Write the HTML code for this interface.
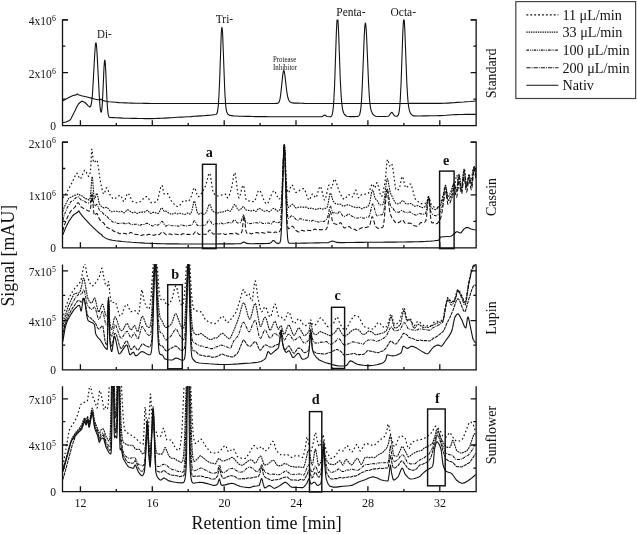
<!DOCTYPE html>
<html lang="en"><head><meta charset="utf-8"><title>Chromatograms</title>
<style>html,body{margin:0;padding:0;background:#fff}svg{display:block}</style></head>
<body>
<svg width="637" height="534" viewBox="0 0 637 534">
<rect width="100%" height="100%" fill="#fff"/>
<g fill="none" stroke="#111" stroke-width="1.3" stroke-linecap="butt">
<path d="M68.0,19.8H62.5V125.7H476.15V19.8H470.65"/>
<path d="M62.5,19.8h5.5M476.15,19.8h-5.5M62.5,46.2h2.8M476.15,46.2h-2.8M62.5,72.65h5.5M476.15,72.65h-5.5M62.5,99.1h2.8M476.15,99.1h-2.8M80.4,125.7v-5.5M116.3,125.7v-2.8M152.3,125.7v-5.5M188.2,125.7v-2.8M224.2,125.7v-5.5M260.1,125.7v-2.8M296.0,125.7v-5.5M332.0,125.7v-2.8M367.9,125.7v-5.5M403.9,125.7v-2.8M439.8,125.7v-5.5"/>
<path d="M68.0,142.1H62.5V247.8H476.15V142.1H470.65"/>
<path d="M62.5,142.1h5.5M476.15,142.1h-5.5M62.5,168.5h2.8M476.15,168.5h-2.8M62.5,194.95h5.5M476.15,194.95h-5.5M62.5,221.4h2.8M476.15,221.4h-2.8M80.4,247.8v-5.5M116.3,247.8v-2.8M152.3,247.8v-5.5M188.2,247.8v-2.8M224.2,247.8v-5.5M260.1,247.8v-2.8M296.0,247.8v-5.5M332.0,247.8v-2.8M367.9,247.8v-5.5M403.9,247.8v-2.8M439.8,247.8v-5.5"/>
<path d="M62.5,264.4V369.8H476.15V264.4"/>
<path d="M62.5,270.8h5.5M476.15,270.8h-5.5M62.5,295.3h2.8M476.15,295.3h-2.8M62.5,320.6h5.5M476.15,320.6h-5.5M62.5,345.2h2.8M476.15,345.2h-2.8M80.4,369.8v-5.5M116.3,369.8v-2.8M152.3,369.8v-5.5M188.2,369.8v-2.8M224.2,369.8v-5.5M260.1,369.8v-2.8M296.0,369.8v-5.5M332.0,369.8v-2.8M367.9,369.8v-5.5M403.9,369.8v-2.8M439.8,369.8v-5.5"/>
<path d="M62.5,386.2V491.7H476.15V386.2"/>
<path d="M62.5,398.8h5.5M476.15,398.8h-5.5M62.5,421.6h2.8M476.15,421.6h-2.8M62.5,445.0h5.5M476.15,445.0h-5.5M62.5,468.2h2.8M476.15,468.2h-2.8M80.4,491.7v-5.5M116.3,491.7v-2.8M152.3,491.7v-5.5M188.2,491.7v-2.8M224.2,491.7v-5.5M260.1,491.7v-2.8M296.0,491.7v-5.5M332.0,491.7v-2.8M367.9,491.7v-5.5M403.9,491.7v-2.8M439.8,491.7v-5.5"/>
</g>
<defs><clipPath id="cp0"><rect x="62" y="19.6" width="415" height="106.9"/></clipPath><clipPath id="cp1"><rect x="62" y="141.9" width="415" height="106.70000000000002"/></clipPath><clipPath id="cp2"><rect x="62" y="264.2" width="415" height="106.40000000000003"/></clipPath><clipPath id="cp3"><rect x="62" y="386.0" width="415" height="106.5"/></clipPath></defs>
<g fill="none" stroke="#111" stroke-linejoin="round">
<path clip-path="url(#cp0)" stroke-width="1.1" d="M62.8,100.9L66.0,99.0L69.3,97.3L72.5,95.7L75.8,94.9L76.3,94.7L77.3,94.0L77.5,94.0L78.3,94.8L81.5,95.8L84.8,96.5L88.0,97.3L91.3,98.1L94.5,99.0L97.8,99.8L100.0,99.8L100.3,99.8L100.8,99.2L101.0,99.1L101.3,99.3L102.5,100.4L105.8,101.3L109.0,101.7L112.3,102.0L115.5,102.3L118.8,102.6L122.0,102.8L125.3,102.9L128.3,103.0L131.6,103.1L134.8,103.2L138.1,103.2L141.3,103.3L144.6,103.4L147.8,103.4L151.1,103.5L154.3,103.5L157.6,103.5L160.8,103.5L164.1,103.5L167.3,103.5L170.6,103.5L173.8,103.5L177.1,103.5L180.3,103.5L183.6,103.5L186.8,103.5L190.1,103.5L193.3,103.5L196.6,103.5L199.8,103.5L203.1,103.5L206.3,103.5L209.6,103.5L212.8,103.5L216.1,103.5L219.3,103.5L222.6,103.5L225.8,103.5L229.1,103.5L232.3,103.5L235.6,103.5L238.8,103.5L242.1,103.5L245.3,103.5L248.6,103.5L251.8,103.5L255.1,103.5L258.3,103.5L261.6,103.5L264.8,103.5L268.1,103.5L271.3,103.5L274.6,103.5L277.3,103.4L278.1,103.1L278.6,102.7L279.1,101.9L279.6,100.5L280.1,98.4L280.8,93.5L282.8,74.6L283.3,71.6L283.6,70.8L283.8,70.5L284.1,70.8L284.3,71.6L284.8,74.5L286.8,91.8L287.6,96.3L288.1,98.3L288.6,99.7L289.3,101.1L290.1,101.9L291.3,102.6L294.6,103.1L297.8,103.1L301.1,103.2L304.3,103.4L307.6,103.5L310.8,103.5L314.1,103.5L317.3,103.5L320.6,103.5L323.8,103.5L327.1,103.5L330.3,103.5L333.6,103.5L336.8,103.5L340.1,103.5L343.3,103.5L346.6,103.5L349.8,103.5L353.1,103.5L356.3,103.5L359.6,103.5L362.8,103.5L366.1,103.5L369.3,103.5L372.6,103.5L375.8,103.5L379.1,103.5L382.3,103.5L385.6,103.5L388.8,103.5L392.1,103.5L395.3,103.5L398.6,103.5L401.8,103.5L405.1,103.5L408.3,103.5L411.6,103.4L414.8,103.4L418.1,103.4L421.3,103.4L424.6,103.4L427.8,103.4L431.1,103.4L434.3,103.4L437.6,103.4L440.8,103.4L444.1,103.3L447.3,103.1L450.6,102.9L453.8,102.7L457.1,102.4L460.3,102.2L463.6,102.0L466.8,101.7L470.1,101.5L473.3,101.2L475.8,101.0"/>
<path clip-path="url(#cp0)" stroke-width="1.1" d="M62.8,122.6L66.0,122.0L68.8,120.8L70.0,120.0L70.8,119.1L74.0,112.8L77.3,106.0L78.5,104.0L80.8,101.8L81.5,101.4L82.3,101.3L85.0,102.5L88.3,105.8L89.3,106.7L89.8,106.9L90.0,106.8L90.3,106.7L90.5,106.4L90.8,105.8L91.3,104.0L91.8,100.9L92.3,96.2L93.0,85.5L94.8,52.7L95.3,46.2L95.5,44.1L95.8,43.0L96.0,42.9L96.3,43.8L96.5,45.6L97.0,52.1L99.3,96.4L100.0,106.4L100.5,110.4L100.8,111.6L101.0,112.2L101.3,112.1L101.5,111.4L101.8,109.9L102.3,104.4L103.0,90.0L104.0,67.4L104.3,63.5L104.5,61.0L104.8,60.1L105.0,60.9L105.3,63.4L105.8,72.3L107.0,100.5L107.5,108.2L108.0,113.1L108.3,114.6L108.5,115.7L108.8,116.5L109.0,116.9L109.3,117.2L109.8,117.5L113.0,117.6L116.3,117.7L119.5,117.9L122.8,118.1L126.0,118.2L129.1,118.3L132.3,118.4L135.6,118.4L138.8,118.5L142.1,118.5L145.3,118.6L148.6,118.6L151.8,118.6L155.1,118.5L158.3,118.4L161.6,118.3L164.8,118.1L168.1,117.9L171.3,117.7L174.6,117.5L177.8,117.3L181.1,117.1L184.3,117.0L187.6,116.8L190.8,116.6L194.1,116.3L197.3,116.1L200.6,115.9L203.8,115.7L207.1,115.4L210.3,115.2L213.6,114.8L215.8,114.5L216.3,114.2L216.8,113.6L217.1,113.1L217.3,112.3L217.8,109.8L218.3,105.4L218.8,98.2L219.6,81.3L221.1,38.0L221.3,33.0L221.6,29.4L221.8,27.6L222.1,27.7L222.3,29.5L222.6,33.1L223.3,51.3L224.6,86.8L225.1,97.0L225.6,104.1L226.1,108.6L226.6,111.3L227.1,112.8L227.6,113.8L228.3,114.6L229.8,115.4L233.1,115.9L236.3,116.0L239.6,116.2L242.8,116.3L246.1,116.4L249.3,116.4L252.6,116.5L255.8,116.6L259.1,116.6L262.3,116.6L265.6,116.6L268.8,116.7L272.1,116.7L275.3,116.7L278.6,116.7L281.8,116.7L285.1,116.7L288.3,116.8L291.6,116.8L294.8,116.8L298.1,116.8L301.3,116.8L304.6,116.8L307.8,116.8L311.1,116.8L314.3,116.8L317.6,116.8L320.8,116.8L322.1,116.6L322.8,116.2L324.1,115.2L324.6,115.0L325.1,115.1L326.8,116.5L329.8,116.8L330.8,116.6L331.3,116.2L331.8,115.5L332.3,114.1L332.8,111.6L333.3,107.3L333.8,100.6L334.6,85.2L336.3,34.1L336.8,23.3L337.1,19.9L337.3,18.1L337.6,17.8L337.8,19.2L338.1,22.2L338.6,31.9L340.3,80.0L341.1,94.9L341.6,101.6L342.1,106.2L342.6,109.3L343.1,111.3L343.8,113.3L344.6,114.5L345.6,115.5L346.8,116.2L350.1,116.6L353.3,116.6L356.6,116.5L358.1,116.4L358.6,116.1L359.1,115.6L359.6,114.7L360.1,113.0L360.6,110.2L361.1,105.8L361.6,99.3L362.3,85.1L364.3,34.5L364.8,26.4L365.1,24.1L365.3,23.1L365.6,23.4L365.8,25.0L366.1,27.8L366.6,36.5L368.6,84.0L369.3,96.5L369.8,102.2L370.3,106.3L370.8,109.1L371.3,111.0L372.1,112.9L373.1,114.5L374.1,115.4L375.6,116.2L378.8,116.5L382.1,116.5L385.3,116.5L387.8,116.3L388.6,116.0L389.3,115.3L391.1,112.8L391.3,112.6L391.6,112.4L391.8,112.4L392.1,112.5L392.6,113.0L394.1,115.2L394.8,115.9L395.6,116.2L396.6,116.3L397.3,116.1L397.8,115.7L398.3,114.9L398.8,113.3L399.3,110.6L399.8,105.9L400.3,98.8L401.1,82.8L402.8,32.6L403.3,23.0L403.6,20.2L403.8,19.0L404.1,19.4L404.3,21.4L404.8,29.6L406.8,82.4L407.6,96.2L408.1,102.3L408.6,106.4L409.1,109.2L409.6,111.1L410.3,112.9L411.3,114.4L412.3,115.3L413.8,115.9L417.1,116.0L420.3,116.0L423.6,115.9L426.8,115.9L430.1,115.8L433.3,115.8L436.6,115.7L439.8,115.6L443.1,115.5L446.3,115.3L449.6,115.0L452.8,114.8L456.1,114.6L459.3,114.5L462.6,114.5L465.8,114.4L469.1,114.4L472.3,114.4L475.6,114.4L475.8,114.4"/>
<path clip-path="url(#cp1)" stroke-width="1.1" d="M62.8,234.9L66.0,226.9L69.3,220.6L72.5,216.0L74.0,214.5L77.3,212.6L78.3,211.3L78.5,211.1L78.8,211.0L79.0,211.1L80.3,213.3L83.5,217.3L86.8,220.9L90.0,224.3L93.3,227.6L96.5,230.7L99.8,233.5L101.5,234.4L102.8,236.4L106.0,238.4L109.3,239.6L112.5,240.2L115.8,240.7L119.0,241.1L122.3,241.5L125.5,241.8L128.6,242.0L131.8,242.3L135.1,242.5L138.3,242.7L141.6,242.9L144.8,243.1L148.1,243.2L151.3,243.4L154.6,243.5L157.8,243.6L161.1,243.7L164.3,243.8L167.6,243.9L170.8,243.9L174.1,243.9L177.3,243.9L180.6,244.0L183.8,244.0L187.1,244.0L190.3,244.0L193.6,244.0L196.8,244.0L200.1,244.0L203.3,244.0L206.6,244.0L209.8,244.0L213.1,244.0L216.3,244.0L219.6,243.9L222.8,243.9L226.1,243.9L229.3,243.9L232.6,243.9L235.8,243.8L239.1,243.8L240.8,243.6L243.6,242.1L244.1,242.1L244.8,242.3L246.8,243.4L250.1,243.7L253.3,243.7L256.6,243.6L259.8,243.6L263.1,243.6L266.3,243.5L269.6,243.4L270.3,243.1L271.1,242.6L272.8,240.7L273.3,240.5L273.6,240.5L274.1,240.7L275.8,242.6L276.6,243.1L278.3,243.4L279.1,243.3L279.6,243.0L279.8,242.7L280.1,242.2L280.3,241.4L280.6,240.1L280.8,238.3L281.3,231.9L281.8,220.8L283.6,155.4L283.8,149.3L284.1,145.9L284.3,145.6L284.6,148.4L284.8,153.9L286.6,219.4L287.1,231.0L287.6,237.7L287.8,239.7L288.1,241.1L288.3,242.0L288.6,242.5L288.8,242.9L289.3,243.2L292.6,243.3L295.8,243.2L299.1,243.2L302.3,243.1L305.6,243.1L308.8,243.0L312.1,243.0L315.3,242.9L318.6,242.9L321.8,242.8L325.1,242.8L328.3,242.6L331.6,241.3L332.6,241.1L333.6,241.2L336.8,242.4L340.1,242.6L343.3,242.6L346.6,242.5L349.8,242.5L353.1,242.5L356.3,242.4L359.6,242.4L362.8,242.4L366.1,242.3L369.3,242.3L372.6,242.3L375.8,242.2L379.1,242.2L382.3,242.2L385.6,242.1L388.8,242.1L392.1,242.1L395.3,242.1L398.6,242.0L401.8,242.0L405.1,242.0L408.3,241.9L411.6,241.9L414.8,241.8L418.1,241.7L421.3,241.6L424.6,241.5L427.8,241.3L431.1,241.1L434.3,240.8L437.6,240.4L438.6,240.2L438.8,240.0L440.3,237.4L440.6,237.1L440.8,237.0L444.1,236.7L447.3,236.5L450.6,236.3L451.3,236.1L454.6,233.5L456.1,232.0L456.6,231.7L457.3,231.8L460.1,232.9L460.6,233.0L460.8,233.0L461.3,232.6L463.6,229.4L465.8,227.8L466.6,227.5L467.8,227.6L471.1,229.0L474.3,229.8L475.8,230.0"/>
<path clip-path="url(#cp1)" stroke-width="1.05" stroke-dasharray="4.2 2.1" d="M62.8,231.2L64.3,225.3L67.5,217.2L69.3,213.4L72.0,209.6L74.8,207.4L76.0,205.6L77.3,203.3L77.8,202.8L78.0,202.7L78.3,202.7L78.5,202.8L79.0,203.5L80.3,206.0L80.8,206.7L84.0,208.6L86.5,209.9L88.0,210.9L88.8,211.1L89.3,211.1L89.5,211.0L89.8,210.8L90.0,210.4L90.3,209.7L90.5,208.6L91.0,204.8L91.8,198.0L92.0,197.0L92.3,197.3L92.5,198.8L93.5,210.0L93.8,212.2L94.0,213.7L94.3,214.6L94.5,215.1L94.8,215.3L95.0,215.2L95.5,214.7L96.3,213.7L96.5,213.4L96.8,213.4L97.0,213.5L97.3,213.8L99.0,218.4L100.3,220.4L101.3,221.5L103.3,222.7L104.0,223.4L106.0,226.6L106.8,227.3L110.0,228.9L112.5,230.2L114.3,231.5L115.0,231.7L116.5,231.7L117.0,231.8L119.0,233.5L119.5,233.8L120.0,233.8L122.0,233.2L125.3,233.5L127.3,234.3L127.8,234.4L128.3,234.2L130.1,232.7L130.6,232.5L131.1,232.5L131.8,232.9L133.1,233.9L133.8,234.2L137.1,234.4L138.8,234.7L140.6,235.5L141.3,235.4L143.1,234.7L143.6,234.7L145.3,235.5L145.8,235.5L146.6,235.3L148.1,234.4L149.1,234.3L151.8,234.6L153.6,235.2L154.3,235.2L156.3,234.2L156.8,234.1L158.6,234.6L159.1,234.6L159.6,234.3L161.6,232.2L162.1,231.9L162.6,231.9L163.3,232.3L166.1,234.7L166.8,235.1L167.3,235.1L168.1,234.8L169.3,234.0L169.8,233.9L170.6,234.0L171.8,234.6L172.6,234.6L174.6,234.0L177.8,234.6L179.8,235.1L180.6,235.0L182.6,233.8L183.1,233.7L183.8,233.8L185.1,234.5L185.8,234.6L187.8,234.2L191.1,234.5L192.6,234.5L193.1,234.4L193.6,234.0L195.3,231.8L195.8,231.5L196.1,231.4L196.3,231.5L196.8,232.0L198.3,233.9L198.8,234.3L199.3,234.4L201.3,234.1L204.6,234.3L206.1,234.3L206.6,234.1L207.1,233.7L209.1,230.3L209.3,230.1L209.6,229.9L209.8,229.9L210.1,230.0L210.6,230.6L212.1,233.1L212.6,233.6L213.1,233.9L216.3,234.0L218.3,233.9L219.8,234.1L220.8,233.7L221.8,233.2L222.3,233.1L222.8,233.1L224.8,234.4L225.3,234.5L227.8,233.8L231.1,233.5L233.1,233.7L235.3,233.0L235.8,233.0L237.8,234.2L238.3,234.3L239.1,234.2L241.1,233.0L241.3,232.8L241.6,232.3L241.8,231.6L242.1,230.6L242.6,227.1L243.6,217.6L243.8,216.3L244.1,216.0L244.3,216.7L244.6,218.4L245.6,228.2L246.1,231.4L246.3,232.3L246.6,232.8L246.8,233.1L247.1,233.2L248.6,232.8L249.1,232.8L251.1,233.8L251.6,233.9L252.3,233.6L253.8,232.8L257.1,232.5L259.3,233.2L260.1,233.2L261.8,232.5L262.3,232.5L264.1,233.3L264.6,233.3L265.3,233.1L266.8,232.2L267.8,232.0L270.6,232.3L272.3,232.9L273.1,233.0L275.1,232.0L275.6,232.0L277.3,232.6L277.8,232.7L278.6,232.4L279.3,231.8L279.8,231.1L280.1,230.5L280.3,229.8L280.6,228.6L280.8,226.9L281.3,221.3L281.8,211.4L283.6,152.9L283.8,147.5L284.1,144.6L284.3,144.4L284.6,147.0L284.8,152.1L286.3,203.7L286.8,216.2L287.3,223.6L287.6,225.8L287.8,227.3L288.1,228.1L288.3,228.5L288.6,228.7L288.8,228.7L291.3,226.5L291.8,226.3L292.3,226.2L292.8,226.4L293.6,227.2L295.3,229.9L296.3,230.8L298.1,231.8L298.8,231.9L299.3,231.9L301.3,230.5L301.8,230.3L302.6,230.4L303.8,230.9L304.6,230.9L306.6,230.2L309.8,230.4L311.8,230.7L312.6,230.5L314.3,229.3L314.8,229.1L315.3,229.1L317.1,230.0L317.8,230.1L319.8,229.6L323.1,229.8L325.1,229.8L325.6,229.7L326.1,229.3L326.6,228.6L327.1,227.6L327.6,226.0L328.1,223.7L329.6,213.6L329.8,212.4L330.1,211.7L330.3,211.6L330.6,211.9L330.8,212.7L332.3,220.6L332.8,222.2L333.3,223.0L333.8,223.4L337.1,224.4L337.8,224.5L338.3,224.4L340.1,222.7L340.3,222.6L340.6,222.7L340.8,222.8L341.3,223.3L343.1,226.7L343.6,227.4L344.1,227.8L344.6,228.0L347.1,227.4L348.8,226.6L349.3,226.6L349.8,226.9L351.8,229.1L352.3,229.4L353.1,229.4L354.1,229.2L354.6,229.3L356.6,230.5L357.1,230.5L357.6,230.4L360.1,228.6L362.8,227.5L365.3,227.6L367.6,226.9L368.6,226.7L369.1,226.3L369.6,225.5L370.1,224.0L371.6,217.9L371.8,217.3L372.1,216.9L372.3,216.7L372.6,216.9L372.8,217.3L373.3,218.8L374.8,224.5L375.3,225.8L375.8,226.6L376.8,227.6L377.8,228.2L378.6,228.3L380.6,227.6L382.1,227.7L382.3,227.6L382.6,227.4L382.8,227.1L383.1,226.6L383.3,225.8L383.8,223.2L384.3,219.0L386.1,195.9L386.3,193.4L386.6,191.6L386.8,190.6L387.1,190.4L387.3,191.1L387.6,192.4L389.3,208.6L389.8,211.8L390.3,214.0L391.1,216.1L392.3,218.3L395.6,222.6L396.1,223.1L396.6,223.3L397.1,223.3L400.1,221.7L401.8,220.0L402.1,219.9L402.3,219.9L402.6,219.9L403.1,220.3L404.6,222.6L405.1,223.1L405.6,223.4L408.8,223.0L410.3,223.2L411.3,223.6L413.8,225.5L416.3,226.2L417.1,226.2L417.6,226.1L418.3,225.5L420.1,223.2L420.6,222.8L421.1,222.6L423.3,222.7L424.6,222.2L425.1,221.8L425.3,221.6L425.6,221.1L425.8,220.5L426.1,219.5L426.6,216.4L428.1,199.5L428.3,197.8L428.6,197.1L428.8,197.5L429.1,199.0L430.6,216.8L431.1,220.6L431.3,221.7L431.6,222.4L431.8,222.8L432.1,223.0L432.3,223.0L433.6,222.6L434.1,222.7L435.8,223.6L436.6,223.7L437.1,223.6L439.6,220.7L440.1,219.9L440.6,218.6L442.3,210.7L444.6,195.1L445.1,192.8L445.3,192.1L445.6,191.7L445.8,192.1L446.1,193.0L447.6,203.2L447.8,204.2L448.1,204.6L448.3,204.7L448.6,204.7L448.8,204.6L449.3,204.1L450.1,202.6L451.1,199.9L451.6,198.0L453.1,190.5L453.6,188.7L453.8,188.3L454.1,188.2L454.3,188.5L454.6,189.3L455.8,195.5L456.1,196.5L456.3,197.1L456.6,197.3L456.8,196.7L457.1,195.4L458.6,182.1L458.8,180.8L459.1,180.4L459.3,180.8L459.6,181.8L461.1,192.5L461.3,193.5L461.6,193.9L461.8,193.5L462.1,192.2L463.6,178.9L463.8,177.7L464.1,177.3L464.3,177.8L464.6,179.0L465.8,189.2L466.1,190.8L466.3,191.8L466.6,192.1L466.8,191.6L467.1,190.6L468.3,182.3L468.6,181.0L468.8,180.2L469.1,180.0L469.3,180.4L469.8,182.6L470.8,188.2L471.1,189.2L471.3,189.7L471.6,189.8L471.8,188.9L472.3,185.0L473.3,174.7L473.6,172.9L473.8,171.8L474.1,171.6L474.3,171.9L474.6,172.5L475.1,174.3L475.6,177.2L475.8,179.0"/>
<path clip-path="url(#cp1)" stroke-width="1.05" stroke-dasharray="3.0 1.1 1.0 1.1" d="M62.8,220.3L64.3,215.0L67.3,207.6L70.5,202.2L71.3,201.4L73.3,200.4L75.8,197.8L77.0,197.1L78.0,196.9L78.5,197.0L79.0,197.4L80.8,199.7L82.0,200.4L84.0,200.9L86.3,202.6L87.0,202.9L88.5,202.9L89.5,203.2L89.8,203.2L90.0,203.1L90.3,202.7L90.5,202.0L91.0,199.2L91.8,193.7L92.0,192.8L92.3,192.8L92.5,193.8L93.5,201.9L93.8,203.5L94.0,204.7L94.3,205.4L94.5,205.8L94.8,206.0L95.0,206.0L95.5,205.6L96.3,204.6L96.5,204.4L96.8,204.3L97.0,204.4L97.3,204.7L97.8,205.8L99.0,209.2L99.5,210.2L100.0,210.8L102.0,212.2L104.3,214.8L105.0,215.2L106.3,215.7L107.0,216.4L108.8,218.6L111.0,220.3L112.5,221.8L113.0,222.1L113.5,222.3L115.3,222.1L116.0,222.4L117.5,223.4L118.3,223.5L121.5,223.2L123.3,223.1L125.5,224.0L126.0,224.0L127.8,222.9L128.3,222.7L128.8,222.8L130.8,224.5L131.3,224.6L134.6,224.3L136.6,224.2L137.3,224.5L138.8,225.4L139.3,225.6L139.8,225.5L141.6,224.5L142.3,224.4L143.8,224.6L144.6,224.4L146.1,223.4L146.6,223.2L147.1,223.2L150.3,224.8L152.1,225.9L152.6,225.9L153.1,225.8L154.8,224.7L155.3,224.6L157.3,225.1L157.8,225.1L158.3,224.9L159.1,224.3L161.1,221.7L161.6,221.4L161.8,221.3L162.1,221.3L162.6,221.7L164.8,225.4L165.3,225.9L165.8,226.1L166.3,226.0L168.1,224.8L168.6,224.8L170.8,225.6L174.1,225.8L176.6,225.6L178.6,226.2L179.1,226.1L181.1,224.9L181.6,224.7L182.1,224.8L184.1,225.8L187.3,225.9L189.8,225.3L191.1,225.3L191.6,225.1L192.1,224.6L193.8,221.3L194.1,221.0L194.3,220.8L194.6,220.7L194.8,220.8L195.3,221.4L196.8,224.4L197.3,225.1L197.8,225.6L198.6,225.8L200.6,225.8L202.8,225.1L204.8,225.5L205.3,225.4L205.8,225.0L206.6,224.0L208.3,220.6L208.8,220.1L209.1,219.9L209.3,219.9L209.6,220.0L210.1,220.5L211.8,223.3L212.6,224.1L213.1,224.3L213.8,224.4L215.8,223.6L216.6,223.6L218.3,224.1L219.1,223.9L220.6,223.1L221.1,223.0L221.8,223.2L223.3,223.9L224.1,223.9L227.3,222.9L228.8,222.4L229.6,222.4L231.1,223.0L231.6,223.0L232.1,222.7L233.8,220.2L234.3,219.8L234.6,219.7L234.8,219.8L235.3,220.2L236.8,222.3L237.3,222.8L237.8,223.0L239.3,222.9L240.1,222.7L240.6,222.2L241.1,221.4L241.6,220.0L242.6,216.3L242.8,215.5L243.1,215.0L243.3,214.9L243.6,215.1L243.8,215.6L245.3,221.5L245.6,222.1L245.8,222.5L246.1,222.8L246.3,222.9L247.8,222.9L249.6,223.6L250.3,223.6L253.6,222.9L255.6,222.6L257.3,222.9L258.1,222.9L259.8,222.1L260.3,222.1L261.1,222.4L262.6,223.4L263.3,223.5L266.6,223.1L268.6,223.0L270.6,223.9L271.1,224.0L271.6,223.8L273.3,221.7L273.8,221.3L274.3,221.2L274.8,221.5L276.3,222.5L277.1,222.7L279.1,222.4L279.6,222.1L279.8,221.9L280.1,221.4L280.3,220.7L280.6,219.7L280.8,218.2L281.3,213.0L281.8,204.2L283.6,152.6L283.8,147.8L284.1,145.2L284.3,144.9L284.6,147.0L284.8,151.4L286.3,195.7L286.8,206.6L287.3,213.3L287.6,215.4L287.8,216.8L288.1,217.7L288.3,218.2L288.6,218.5L288.8,218.5L289.1,218.4L291.1,216.0L291.6,215.7L292.1,215.7L292.6,216.0L295.8,219.2L296.8,220.0L297.3,220.2L297.8,220.2L298.6,219.8L299.8,218.8L300.3,218.7L300.8,218.7L302.8,219.7L306.1,220.2L308.3,220.2L310.6,221.2L311.1,221.2L313.1,220.3L313.6,220.3L314.3,220.6L315.8,221.7L319.1,222.0L321.8,221.3L323.6,221.5L324.1,221.4L324.8,220.9L326.8,218.7L327.3,217.9L327.8,216.6L328.6,213.3L329.6,207.7L329.8,206.8L330.1,206.2L330.3,206.0L330.6,206.2L330.8,206.7L332.1,211.3L332.6,212.5L332.8,212.8L333.1,213.0L333.3,213.0L334.6,212.6L335.1,212.7L336.8,213.6L337.3,213.7L337.8,213.4L339.3,211.5L339.6,211.3L339.8,211.3L340.1,211.4L340.6,212.0L342.1,215.1L342.6,215.8L343.1,216.2L343.8,216.4L345.3,216.3L346.1,215.9L348.1,214.1L348.6,213.8L349.1,213.9L349.6,214.2L351.1,215.7L353.3,216.7L355.1,218.0L355.8,218.2L359.1,217.8L360.8,217.3L361.6,217.4L363.3,218.3L363.8,218.3L364.6,218.1L365.8,217.4L366.6,217.2L367.8,217.4L368.3,217.2L368.8,216.8L369.3,215.8L370.1,213.5L371.8,205.9L372.3,204.4L372.6,204.1L372.8,203.9L373.1,204.1L373.3,204.4L373.8,205.8L375.6,212.9L376.1,214.4L376.6,215.3L376.8,215.6L377.1,215.8L377.3,215.9L377.8,215.8L379.3,214.9L380.1,214.8L381.3,215.0L381.8,214.8L382.3,214.5L382.8,213.8L383.3,212.7L383.8,210.9L384.3,208.3L386.3,191.7L386.6,190.2L386.8,189.2L387.1,188.7L387.3,188.7L387.6,189.2L388.1,191.6L389.6,201.9L390.1,204.2L390.6,205.7L391.1,206.5L392.6,207.9L394.6,210.9L395.3,211.7L396.1,212.0L398.6,212.3L399.3,212.1L401.3,210.6L401.8,210.4L402.3,210.5L404.3,211.9L407.3,212.8L407.8,212.8L409.6,211.9L410.1,211.9L410.6,212.1L412.3,213.7L415.6,215.1L416.1,215.2L416.6,215.2L417.3,214.8L418.6,213.7L419.1,213.5L419.6,213.5L421.6,214.1L424.6,214.1L425.1,214.0L425.3,213.8L425.6,213.4L425.8,212.8L426.3,210.9L427.1,205.6L427.8,199.4L428.1,197.9L428.3,197.1L428.6,197.0L428.8,197.7L429.3,200.9L430.3,209.3L430.8,212.0L431.1,212.9L431.3,213.4L431.6,213.7L434.6,215.6L435.8,215.8L436.6,215.7L437.6,215.1L438.6,214.1L440.3,211.4L441.6,208.4L442.6,205.2L443.1,202.5L444.6,190.7L445.1,188.0L445.3,187.3L445.6,187.2L445.8,187.7L446.1,188.8L447.3,197.8L447.6,199.2L447.8,200.1L448.1,200.4L448.3,200.4L448.6,200.2L449.1,199.6L451.1,195.2L451.6,193.4L453.1,185.9L453.6,184.2L453.8,183.8L454.1,183.7L454.3,184.1L454.8,185.9L455.8,190.7L456.1,191.6L456.3,192.1L456.6,192.1L456.8,191.4L457.3,187.9L458.3,178.4L458.6,176.7L458.8,175.6L459.1,175.4L459.3,176.1L459.8,179.2L460.8,187.8L461.1,189.3L461.3,190.3L461.6,190.6L461.8,189.9L462.1,188.3L463.3,175.8L463.6,173.9L463.8,172.6L464.1,172.2L464.3,172.8L464.6,174.1L465.8,184.6L466.1,186.2L466.3,187.2L466.6,187.5L466.8,187.0L467.3,184.6L468.3,178.3L468.6,177.1L468.8,176.4L469.1,176.3L469.3,176.7L469.8,178.6L470.8,183.8L471.1,184.8L471.3,185.4L471.6,185.5L471.8,184.8L472.3,181.3L473.3,171.7L473.6,169.9L473.8,168.8L474.1,168.6L474.3,168.8L474.6,169.1L475.1,170.6L475.6,173.0L475.8,174.7"/>
<path clip-path="url(#cp1)" stroke-width="1.1" stroke-dasharray="1.7 0.9" d="M62.8,211.4L64.5,206.5L67.8,199.9L68.8,198.3L69.3,197.8L70.0,197.5L71.3,197.2L73.8,195.5L76.0,195.0L77.8,194.1L78.3,194.0L78.5,194.0L79.0,194.3L80.3,195.5L80.8,195.7L81.8,195.7L82.3,195.9L84.5,198.2L85.3,198.6L87.0,198.9L88.8,199.9L89.0,199.9L89.3,199.9L89.5,199.7L89.8,199.3L90.0,198.5L90.3,197.1L90.8,192.3L91.8,178.3L92.0,176.6L92.3,176.6L92.5,178.1L93.8,195.1L94.0,197.2L94.3,198.4L94.5,198.9L94.8,198.9L95.0,198.4L96.3,194.0L96.5,193.5L96.8,193.2L97.0,193.4L97.3,194.1L98.8,201.6L99.3,203.5L99.8,204.6L101.5,206.6L103.0,207.6L104.0,207.9L105.0,207.8L106.3,207.4L106.8,207.4L107.3,207.6L108.0,208.2L110.3,211.2L110.8,211.6L111.3,211.8L112.0,211.7L113.5,211.2L116.8,211.3L119.0,211.8L120.0,211.7L121.0,211.4L121.5,211.4L122.3,211.7L123.5,212.6L124.0,212.8L124.5,212.7L125.0,212.3L126.8,210.2L127.3,209.9L127.8,209.8L128.3,210.0L131.6,212.4L132.3,212.6L133.1,212.6L134.3,212.2L134.8,212.1L135.6,212.4L136.8,213.3L137.3,213.4L137.8,213.3L139.8,212.2L140.8,212.1L143.8,212.2L144.8,211.9L146.6,210.6L147.1,210.4L147.6,210.5L148.1,210.8L149.8,213.0L150.3,213.3L150.8,213.4L151.6,213.2L152.8,212.4L153.6,212.3L156.8,213.1L157.8,213.4L158.3,213.3L158.8,213.0L159.3,212.3L160.8,208.8L161.3,208.1L161.6,207.9L161.8,207.9L162.1,208.1L162.6,208.7L163.6,210.6L164.1,211.2L164.3,211.4L164.8,211.4L165.8,211.1L166.3,211.2L166.8,211.4L168.8,213.1L171.3,214.2L172.1,214.2L174.1,213.1L174.6,213.0L175.1,213.1L176.6,213.8L177.1,213.9L179.3,213.2L180.3,213.3L183.6,214.3L184.8,214.5L185.6,214.3L187.3,213.2L187.8,213.1L188.3,213.2L189.6,213.9L190.1,214.0L190.3,213.9L190.6,213.7L191.1,213.0L191.6,211.7L192.3,208.8L193.6,202.7L193.8,201.9L194.1,201.3L194.3,201.1L194.6,201.2L194.8,201.6L195.3,203.4L196.8,210.8L197.3,212.5L197.8,213.5L198.1,213.8L198.3,214.0L198.6,214.1L199.1,214.0L200.3,213.2L200.8,213.1L201.3,213.1L203.1,214.2L203.6,214.3L204.1,214.2L205.1,213.6L206.1,212.5L206.8,211.0L208.8,205.1L209.1,204.6L209.3,204.3L209.6,204.2L209.8,204.4L210.1,204.7L210.6,205.9L211.8,209.6L212.3,210.6L212.8,211.2L214.8,212.2L216.1,213.1L216.6,213.3L217.1,213.3L219.1,212.4L222.3,212.0L224.6,211.6L226.8,210.2L227.3,210.1L227.8,210.2L229.3,211.2L229.8,211.3L230.3,211.2L230.8,210.8L231.8,209.3L233.8,205.3L234.3,204.7L234.6,204.5L234.8,204.5L235.1,204.6L235.6,205.1L237.3,208.8L237.8,209.6L238.3,210.0L238.8,210.1L240.3,209.6L241.1,209.0L242.8,206.8L243.1,206.6L243.3,206.6L243.6,206.7L244.1,207.3L245.3,209.2L246.1,210.0L246.8,210.3L249.3,210.5L251.1,210.9L252.1,210.8L253.1,210.4L253.6,210.4L254.3,210.6L255.3,211.3L255.8,211.4L256.3,211.2L256.8,210.8L258.3,208.8L258.8,208.4L259.3,208.4L260.1,208.8L263.3,210.9L264.1,211.2L264.8,211.2L266.3,210.7L266.8,210.6L267.6,210.8L268.8,211.6L269.3,211.6L269.8,211.5L272.6,208.9L273.3,208.5L273.8,208.4L274.3,208.5L275.1,209.0L276.8,210.7L277.3,211.0L277.8,211.1L278.6,210.8L279.6,210.0L280.1,209.3L280.3,208.8L280.6,208.0L280.8,206.8L281.1,205.1L281.6,199.6L282.1,190.5L283.6,151.0L283.8,146.7L284.1,144.3L284.3,143.9L284.6,145.6L284.8,149.2L286.6,193.0L287.1,200.7L287.3,203.2L287.6,205.0L287.8,206.1L288.1,206.9L288.3,207.3L288.6,207.4L288.8,207.4L289.3,207.1L291.8,204.5L292.3,204.3L292.8,204.3L293.3,204.6L295.3,207.5L295.8,207.9L296.3,208.0L298.3,207.2L301.6,207.0L302.6,207.0L304.1,207.4L306.1,207.1L306.8,207.3L308.6,208.5L309.1,208.6L311.3,208.1L314.6,209.1L316.6,209.5L317.3,209.4L319.1,208.3L319.6,208.1L320.1,208.2L321.8,209.1L322.3,209.2L324.6,208.4L326.1,208.2L326.6,207.9L327.1,207.2L327.6,205.9L328.3,202.5L329.6,195.2L329.8,194.2L330.1,193.5L330.3,193.1L330.6,193.2L330.8,193.5L331.3,195.0L332.6,199.5L333.3,201.2L334.6,202.9L335.6,203.7L338.3,204.2L340.1,204.1L340.8,204.4L342.8,206.1L343.3,206.3L343.8,206.3L346.1,205.0L347.3,204.8L349.6,205.2L352.8,206.8L356.1,207.6L356.8,207.6L358.8,207.1L359.3,207.2L361.3,208.6L361.8,208.7L362.3,208.7L364.3,207.6L366.8,207.1L367.8,206.5L368.3,206.0L368.8,205.2L369.3,203.9L370.1,200.7L371.6,192.4L372.1,190.6L372.3,190.1L372.6,190.0L372.8,190.2L373.1,190.7L374.8,197.4L375.3,198.6L375.8,199.3L376.8,200.1L377.6,201.3L378.8,203.7L379.3,204.3L379.8,204.7L381.6,205.1L382.1,205.0L382.6,204.8L382.8,204.5L383.3,203.6L383.8,201.8L384.3,199.1L386.3,182.5L386.8,179.8L387.1,179.1L387.3,178.8L387.6,179.0L387.8,179.6L388.3,181.8L389.8,190.5L390.6,193.4L393.8,200.0L395.6,203.0L396.1,203.6L396.6,203.9L397.1,204.0L400.1,203.1L400.8,202.5L402.1,200.9L402.6,200.6L402.8,200.6L403.1,200.6L403.6,201.0L405.3,203.2L406.1,203.7L407.3,204.0L410.3,203.5L411.1,203.6L411.8,204.1L413.8,206.0L414.3,206.3L414.8,206.3L416.6,205.7L417.3,205.6L420.6,206.9L422.3,207.6L423.1,207.6L425.3,206.4L425.8,205.9L426.3,204.9L426.8,203.2L427.8,198.4L428.1,197.6L428.3,197.2L428.6,197.2L428.8,197.6L429.3,199.6L430.3,204.7L430.8,206.5L431.3,207.7L431.8,208.3L432.6,208.8L435.1,209.6L435.8,209.6L436.3,209.4L438.6,206.8L440.1,205.9L440.6,205.3L441.1,204.4L442.6,199.7L444.6,188.6L445.1,186.8L445.3,186.3L445.6,186.2L445.8,186.6L446.3,188.7L447.3,194.5L447.6,195.6L447.8,196.3L448.1,196.5L448.3,196.5L448.8,196.1L449.3,195.3L451.3,190.4L452.8,185.3L453.3,184.0L453.6,183.6L453.8,183.4L454.1,183.4L454.3,183.7L454.8,185.1L455.8,188.7L456.1,189.4L456.3,189.8L456.6,189.9L456.8,189.3L457.1,187.9L458.3,177.2L458.6,175.6L458.8,174.5L459.1,174.3L459.3,174.8L459.6,176.0L460.8,185.6L461.1,187.1L461.3,188.1L461.6,188.3L461.8,187.6L462.1,186.0L463.3,173.1L463.6,171.0L463.8,169.7L464.1,169.2L464.3,169.7L464.6,171.0L466.1,184.4L466.3,185.7L466.6,186.2L466.8,185.9L467.1,185.0L468.6,175.4L468.8,174.5L469.1,174.2L469.3,174.5L469.6,175.3L470.8,182.1L471.1,183.2L471.3,183.9L471.6,184.1L471.8,183.4L472.1,181.9L473.3,169.5L473.6,167.6L473.8,166.4L474.1,166.1L474.3,166.2L474.6,166.6L475.1,168.1L475.6,170.6L475.8,172.3"/>
<path clip-path="url(#cp1)" stroke-width="1.18" stroke-dasharray="1.6 2.4" d="M62.8,197.8L65.3,194.9L68.5,189.3L71.8,183.0L75.0,176.2L76.0,174.1L76.5,173.4L76.8,173.2L77.0,173.2L77.3,173.4L77.8,174.2L79.3,178.2L79.5,178.6L79.8,178.9L80.0,179.0L80.3,178.9L80.8,178.4L81.8,176.4L83.8,171.5L84.3,170.7L84.5,170.4L84.8,170.2L85.0,170.2L85.3,170.3L85.8,170.9L88.0,175.7L88.5,176.4L88.8,176.5L89.0,176.4L89.3,176.0L89.8,174.4L90.5,170.3L90.8,167.7L91.5,152.1L91.8,149.1L92.0,149.1L92.3,150.6L93.0,158.4L93.3,160.5L93.5,161.7L93.8,162.5L94.0,162.6L94.5,162.3L96.3,160.3L96.8,160.0L97.0,160.1L97.3,160.8L98.8,170.0L100.0,179.4L102.3,190.3L103.0,192.7L103.5,193.7L103.8,193.9L104.0,194.0L104.3,193.8L104.8,192.5L105.8,189.0L106.0,188.3L106.3,187.9L106.5,187.8L106.8,187.9L107.3,188.5L109.8,194.4L112.3,197.9L113.0,198.6L113.5,198.9L114.0,199.0L114.8,198.8L118.0,196.4L119.3,195.6L120.0,195.3L120.3,195.3L120.5,195.4L120.8,195.6L121.3,196.4L123.0,200.6L123.5,201.3L123.8,201.5L124.0,201.6L124.3,201.5L124.5,201.1L125.0,200.0L126.8,194.7L127.3,193.7L127.5,193.4L127.8,193.3L128.1,193.4L128.6,193.7L129.3,194.9L131.8,200.3L132.3,201.1L132.8,201.6L136.1,202.6L138.1,202.8L139.1,202.5L142.3,199.7L144.8,197.3L146.1,196.7L146.8,196.6L147.3,196.8L148.1,197.7L150.6,202.0L151.1,202.5L151.6,202.8L154.8,202.3L156.8,201.5L157.1,201.2L157.6,200.1L160.6,187.7L161.1,186.2L161.3,185.7L161.6,185.4L161.8,185.3L162.1,185.5L162.3,186.2L163.8,193.1L164.1,193.8L164.3,194.0L166.6,193.3L167.1,193.3L167.6,193.7L168.3,194.7L171.1,200.5L174.3,204.4L176.3,206.1L177.3,206.5L178.1,206.6L178.6,206.5L179.3,205.9L182.6,201.6L183.6,200.6L184.1,200.4L184.6,200.3L187.6,201.5L188.1,201.6L188.3,201.5L188.8,201.1L190.8,197.6L191.6,195.5L193.3,189.5L193.8,188.4L194.1,188.0L194.3,187.8L194.6,187.8L194.8,188.1L195.3,189.0L197.3,195.4L197.8,196.3L198.1,196.6L198.3,196.6L198.8,196.5L199.6,195.9L202.6,192.0L205.6,185.7L206.3,183.4L208.3,175.4L208.8,174.0L209.1,173.6L209.3,173.3L209.6,173.2L209.8,173.5L210.1,174.2L210.6,176.6L212.6,190.1L213.1,192.3L213.3,192.8L215.1,194.8L216.3,195.7L217.3,196.0L220.6,195.3L223.8,194.2L225.1,194.0L225.3,194.1L225.6,194.3L227.1,197.3L227.3,197.6L227.6,197.8L227.8,197.8L228.1,197.6L228.6,196.9L229.3,195.2L231.6,187.8L232.3,184.1L233.8,175.0L234.3,173.2L234.6,172.8L234.8,172.7L235.1,173.2L235.3,174.1L235.8,177.0L237.8,193.5L238.3,196.4L238.6,197.3L238.8,197.8L239.1,197.8L239.3,197.5L239.8,196.4L242.1,187.5L242.6,186.1L242.8,185.6L243.1,185.3L243.3,185.3L243.6,185.8L244.1,187.7L245.8,198.4L246.1,199.4L246.3,200.1L246.6,200.3L249.8,201.2L253.1,201.6L254.1,201.6L254.3,201.5L254.8,200.8L255.6,199.0L257.8,191.9L258.3,190.9L258.6,190.6L258.8,190.4L259.1,190.3L259.6,190.5L260.1,191.0L261.1,192.8L264.3,201.0L265.3,202.9L265.8,203.6L266.3,203.9L266.6,204.0L266.8,204.0L267.3,203.7L268.1,202.7L271.3,194.9L272.6,192.3L273.3,191.2L273.8,190.9L274.1,190.8L274.3,190.8L274.6,191.0L275.1,191.6L277.8,197.8L278.3,198.5L278.6,198.8L278.8,199.0L279.1,199.0L279.6,198.8L280.1,198.4L280.8,197.4L281.6,195.8L281.8,193.7L282.3,184.3L283.6,152.2L283.8,147.9L284.1,145.4L284.3,145.2L284.6,146.8L285.1,154.2L286.3,180.8L286.6,184.7L286.8,187.4L287.6,191.0L288.1,192.5L288.3,192.8L288.6,192.8L288.8,192.5L289.3,191.4L290.8,186.4L291.3,185.3L291.6,185.0L291.8,185.0L292.1,185.1L292.6,185.7L295.1,191.3L295.6,192.1L295.8,192.3L296.1,192.5L296.3,192.5L296.8,192.3L300.1,190.1L302.6,188.9L303.6,188.7L303.8,188.7L304.1,188.8L304.6,189.5L305.3,191.2L307.6,197.9L308.1,199.0L308.6,199.8L308.8,200.0L309.1,200.0L309.3,199.9L309.8,199.3L311.8,194.9L312.3,194.2L312.6,194.0L312.8,194.0L313.1,194.1L313.6,194.7L315.1,197.3L315.3,197.5L315.6,197.7L315.8,197.7L316.1,197.5L316.6,196.7L319.1,188.3L319.6,187.1L319.8,186.7L320.1,186.5L320.3,186.5L320.6,186.7L320.8,187.2L321.3,188.5L323.6,197.8L324.1,199.2L324.3,199.7L324.6,200.0L324.8,200.0L325.1,199.7L325.3,199.3L325.8,197.7L328.1,187.4L328.6,185.8L328.8,185.3L329.1,185.0L329.3,185.0L329.6,185.2L330.8,187.5L331.1,187.8L331.3,188.0L331.6,187.9L331.8,187.6L332.3,186.1L333.6,180.8L334.1,179.3L334.3,179.0L334.6,179.0L334.8,179.2L335.3,179.9L336.3,182.5L338.6,190.0L341.8,196.8L342.8,198.3L343.6,199.0L344.1,199.2L344.6,199.1L345.1,198.8L347.8,195.2L348.3,194.8L348.8,194.7L349.3,194.9L351.6,196.7L352.1,196.9L352.3,197.0L352.6,197.0L352.8,196.7L353.3,195.8L354.8,191.4L355.3,190.5L355.6,190.2L355.8,190.2L356.1,190.5L356.6,192.0L357.8,196.8L358.1,197.4L358.3,197.7L358.6,197.7L359.1,197.4L361.3,194.9L361.8,194.6L365.1,194.2L367.6,194.0L367.8,193.9L368.3,193.4L369.1,191.9L371.3,185.8L371.8,184.8L372.3,184.2L372.6,184.0L372.8,184.0L373.1,184.3L374.3,187.6L374.6,187.9L374.8,188.0L375.1,187.6L376.3,183.7L376.6,183.1L376.8,182.7L377.1,182.7L377.3,183.0L377.8,184.1L380.3,194.2L380.8,195.6L381.1,196.1L381.3,196.4L381.6,196.5L381.8,196.3L382.1,195.9L382.6,194.6L384.8,183.4L385.6,176.9L386.8,163.7L387.3,160.3L387.6,159.5L387.8,159.5L388.1,160.0L389.1,164.7L389.3,165.6L389.6,166.0L389.8,165.9L390.3,165.4L391.1,164.2L391.3,164.0L391.6,163.9L391.8,164.2L392.1,164.8L392.6,166.9L395.3,186.5L395.8,188.9L396.1,189.7L396.3,190.2L396.6,190.3L397.3,190.1L398.8,189.2L399.1,188.9L399.3,188.5L399.8,186.7L401.3,179.1L401.8,177.2L402.1,176.7L402.3,176.5L402.6,176.7L402.8,177.1L403.3,178.7L404.8,185.6L405.3,187.2L405.6,187.6L405.8,187.8L406.3,187.7L407.1,187.1L409.3,184.5L410.1,184.1L410.3,184.0L410.6,184.0L410.8,184.2L411.3,185.1L412.3,188.3L414.3,196.4L414.8,197.9L415.3,198.9L418.6,202.1L420.8,203.5L422.6,204.0L424.6,203.8L426.6,202.9L426.8,202.7L427.1,202.0L428.1,197.2L428.3,196.7L428.6,196.6L428.8,196.9L429.3,198.0L431.1,204.1L431.6,205.2L434.1,207.1L435.8,207.8L436.8,207.9L437.3,207.7L438.1,207.0L440.6,202.7L441.8,199.4L443.3,194.1L444.8,186.7L445.1,185.9L445.3,185.4L445.6,185.3L445.8,185.9L446.1,187.2L447.3,197.4L447.6,199.0L447.8,200.0L448.1,200.3L449.1,200.1L450.6,199.1L451.8,197.8L452.1,197.4L452.6,196.1L454.3,189.0L456.1,177.5L456.3,176.3L456.6,175.5L456.8,175.2L457.1,175.6L457.3,176.6L458.8,187.6L459.1,188.6L459.3,189.0L459.6,189.0L460.1,188.6L460.8,187.6L461.8,185.5L462.1,184.8L462.6,181.7L463.8,171.0L464.1,169.7L464.3,169.0L464.6,169.2L464.8,170.7L465.8,182.7L466.1,185.1L466.3,186.4L466.6,186.4L466.8,185.6L468.1,178.1L468.3,177.0L468.6,176.5L468.8,176.7L469.1,177.5L470.1,182.6L470.3,183.5L470.6,184.0L470.8,183.7L471.1,182.8L472.6,171.3L472.8,169.9L473.1,169.0L473.3,168.9L473.8,169.1L474.1,169.3L474.6,170.2L475.1,171.8L475.6,174.3L475.8,175.2"/>
<path clip-path="url(#cp2)" stroke-width="1.1" d="M62.8,341.6L64.8,329.6L65.8,325.4L67.5,320.6L70.8,314.6L74.0,309.6L77.3,306.3L78.5,305.5L79.3,305.3L79.5,305.4L79.8,306.1L80.8,310.5L81.0,311.0L81.3,310.8L81.5,310.0L83.0,300.4L83.3,299.2L83.5,298.5L83.8,298.4L84.0,298.8L84.3,299.5L84.8,301.7L87.0,316.8L87.5,319.2L87.8,319.9L88.0,320.4L89.0,321.3L92.3,322.7L93.3,323.3L94.3,324.4L94.5,324.8L94.8,326.4L95.3,331.4L95.5,333.1L96.5,335.5L97.8,337.4L100.5,340.2L103.8,345.8L105.0,347.7L106.5,349.2L107.0,349.5L107.3,348.7L107.5,340.7L108.3,303.2L108.5,300.1L108.8,304.5L109.5,333.6L109.8,340.6L110.3,345.5L110.8,348.9L111.0,350.1L111.3,351.0L111.5,351.5L111.8,351.5L112.0,351.0L112.5,348.3L113.8,338.9L114.0,337.5L114.3,336.7L114.5,336.5L114.8,336.7L115.0,337.1L115.5,338.6L118.0,350.9L118.5,352.7L118.8,353.3L119.0,353.7L119.3,353.8L119.8,353.7L120.5,353.1L123.8,348.1L125.3,345.9L126.0,345.2L126.5,345.0L126.8,345.0L127.0,345.2L127.3,345.6L127.8,347.3L129.1,352.7L129.6,354.3L129.8,354.7L130.1,354.8L130.6,354.6L132.6,352.5L133.1,352.2L133.3,352.2L133.6,352.3L134.1,352.9L135.3,355.4L135.6,355.7L135.8,355.9L136.3,355.8L137.3,355.3L140.6,352.2L141.3,351.7L142.1,351.6L143.6,352.0L146.8,353.9L148.6,354.7L149.3,354.8L149.8,354.7L150.3,354.4L150.6,354.0L150.8,353.5L151.1,352.8L151.3,351.6L151.6,350.0L152.1,344.5L152.6,335.3L153.3,313.1L154.3,277.1L154.8,265.0L155.1,262.3L155.3,262.0L155.6,264.3L155.8,269.0L157.6,327.5L158.1,339.5L158.6,347.1L158.8,349.6L159.1,351.3L159.3,352.6L159.6,353.4L159.8,354.0L160.1,354.3L160.6,354.6L162.1,354.8L162.3,355.0L162.8,355.6L164.3,358.3L164.8,358.9L168.1,359.7L171.3,360.0L172.3,360.0L173.3,359.5L175.1,358.2L175.8,358.0L177.3,358.3L180.6,359.8L182.1,360.2L183.3,360.1L183.8,359.9L184.1,359.6L184.3,359.2L184.6,358.5L184.8,357.4L185.1,355.7L185.3,353.2L185.8,344.6L186.3,330.1L187.6,277.4L187.8,269.4L188.1,264.2L188.3,262.4L188.6,264.1L188.8,269.2L190.3,329.4L190.8,343.8L191.3,352.3L191.6,354.7L191.8,356.4L192.1,357.5L192.3,358.2L192.8,359.0L195.6,362.0L196.1,362.3L199.3,363.0L202.6,363.3L205.8,363.5L209.1,363.8L212.3,364.0L215.6,364.2L218.8,364.4L222.1,364.5L225.3,364.5L228.6,364.5L231.8,364.3L235.1,364.1L238.3,363.9L241.6,363.6L244.8,363.4L248.1,363.2L251.3,363.0L254.6,362.6L257.8,362.2L261.1,361.5L263.8,359.9L265.6,358.3L265.8,357.9L267.6,352.3L267.8,351.8L268.1,351.6L268.3,351.6L268.8,352.0L270.1,353.7L270.6,354.1L271.1,354.1L271.8,353.7L275.1,350.7L277.3,349.0L278.1,348.1L278.6,347.1L279.1,344.6L279.8,339.5L280.6,332.8L280.8,331.4L281.1,331.0L281.3,331.9L282.3,340.3L283.3,346.3L284.6,350.1L285.3,351.7L285.8,352.2L286.1,352.4L286.3,352.4L286.8,352.2L288.3,350.9L288.8,350.7L289.1,350.8L289.6,351.3L292.1,356.6L292.6,357.3L292.8,357.5L293.1,357.6L293.6,357.5L294.3,357.0L297.1,353.9L297.8,353.4L298.3,353.3L298.6,353.4L299.1,353.8L301.6,358.4L302.1,359.0L302.3,359.2L302.6,359.3L304.8,359.0L306.6,358.1L307.8,357.1L308.1,356.7L308.3,355.8L309.1,350.8L309.8,342.2L310.3,335.5L310.6,333.4L310.8,333.2L311.1,334.9L311.8,344.1L312.3,348.2L312.6,349.8L313.3,352.4L314.1,354.2L316.6,357.7L319.3,360.0L322.6,361.6L325.8,362.7L329.1,363.6L332.3,364.6L335.6,365.4L338.8,366.0L342.1,366.0L345.3,365.7L346.1,365.6L346.6,365.4L347.6,364.2L349.3,361.7L349.8,361.2L350.3,360.9L351.6,361.1L354.8,362.9L357.3,364.3L360.6,364.9L363.8,365.3L367.1,365.6L370.3,365.6L373.6,365.3L376.8,364.7L380.1,363.9L382.6,363.0L384.1,361.9L385.6,360.1L385.8,359.5L386.8,355.3L387.1,354.8L390.3,355.5L392.6,355.9L395.8,355.5L399.1,354.1L401.1,352.7L401.3,352.4L401.8,350.9L402.8,347.0L403.1,346.4L403.3,346.2L404.1,346.4L406.8,348.2L407.6,348.4L408.1,348.3L410.8,346.4L411.3,346.2L413.3,346.5L416.6,348.1L419.8,350.1L423.1,352.1L425.6,353.5L426.8,353.8L427.6,353.7L428.6,353.1L431.8,349.0L433.6,346.9L436.6,345.3L437.8,345.0L438.6,345.1L440.6,346.1L441.1,346.2L441.6,346.1L442.3,345.6L445.6,340.8L448.8,336.4L450.8,333.1L451.8,330.8L452.6,327.9L454.3,319.1L454.8,317.4L456.3,315.0L457.1,314.2L457.6,313.9L457.8,313.9L458.1,313.9L458.6,314.3L459.3,315.3L462.1,320.6L464.3,326.3L464.8,327.2L465.3,327.7L465.6,327.9L465.8,327.8L466.1,327.2L466.6,324.3L467.3,319.0L467.6,317.7L467.8,317.1L468.1,317.1L468.3,317.5L468.8,319.1L472.1,335.1L472.8,338.3L473.3,339.7L474.6,341.8L475.3,342.7L475.8,343.0"/>
<path clip-path="url(#cp2)" stroke-width="1.05" stroke-dasharray="3.4 0.7" d="M62.8,336.7L64.5,327.2L65.8,322.6L68.8,314.8L72.0,308.9L75.3,304.2L77.0,301.5L77.8,300.8L78.3,300.6L79.3,300.7L79.8,300.9L81.0,302.0L81.3,302.1L81.5,302.1L81.8,301.9L82.3,300.8L83.0,298.7L83.3,298.1L83.5,297.8L83.8,297.8L84.0,298.1L84.3,298.6L84.8,300.4L87.0,313.0L87.5,315.1L87.8,315.8L88.3,316.4L90.8,318.2L94.0,321.3L94.8,322.0L95.8,323.8L97.5,327.7L98.0,328.4L98.5,328.8L98.8,328.9L99.3,328.8L100.0,328.2L102.0,326.0L102.5,325.7L102.8,326.0L103.0,326.8L103.5,329.6L105.0,340.9L105.3,342.2L105.5,343.1L106.0,343.9L106.5,344.3L107.0,344.4L107.3,343.6L107.5,336.2L108.3,301.9L108.5,299.1L108.8,303.2L109.5,330.2L109.8,336.6L110.3,340.8L110.8,343.7L111.0,344.8L111.3,345.5L111.5,345.9L111.8,345.9L112.0,345.6L112.5,343.9L114.3,334.9L114.5,334.1L114.8,333.5L115.0,333.3L115.3,333.3L115.5,333.5L116.0,334.1L116.8,335.9L119.3,345.1L120.0,347.1L120.5,347.9L120.8,348.2L121.0,348.4L121.3,348.4L121.8,348.2L122.5,347.3L125.3,342.0L125.8,341.4L126.3,341.0L126.5,340.9L126.8,340.9L127.0,341.1L127.5,341.8L130.3,348.6L130.8,349.3L131.1,349.5L131.3,349.5L131.8,349.3L132.6,348.5L133.8,346.6L134.3,346.1L134.6,346.1L134.8,346.2L135.3,346.7L136.8,349.5L137.3,350.1L137.6,350.2L137.8,350.2L138.3,349.9L139.3,348.6L141.6,344.7L142.1,344.1L142.6,343.9L143.1,343.9L143.8,344.3L145.8,345.9L148.8,346.9L149.3,346.9L149.8,346.7L150.1,346.5L150.3,346.2L150.6,345.8L150.8,345.1L151.1,344.1L151.6,340.8L152.1,334.8L152.6,325.5L154.3,273.9L154.8,263.8L155.1,261.4L155.3,261.0L155.6,262.7L155.8,266.4L156.6,286.1L157.8,323.5L158.3,333.4L158.8,339.7L159.1,341.8L159.3,343.3L159.6,344.3L159.8,344.9L160.1,345.4L160.3,345.6L160.8,345.8L162.1,345.9L162.6,346.2L165.6,350.5L166.1,350.9L166.6,351.0L167.1,350.9L167.8,350.5L169.8,348.8L172.1,347.8L174.3,346.3L175.3,346.1L176.3,346.2L177.3,346.8L180.1,349.7L180.8,350.2L181.6,350.2L183.6,349.8L183.8,349.7L184.1,349.4L184.3,348.9L184.6,348.0L184.8,346.6L185.1,344.6L185.6,337.7L186.1,326.1L187.6,273.3L187.8,266.9L188.1,262.8L188.3,261.4L188.6,262.9L188.8,267.0L189.3,281.6L190.6,326.1L191.1,337.7L191.6,344.7L191.8,346.8L192.1,348.3L192.3,349.3L192.6,349.9L192.8,350.3L193.3,350.7L195.1,351.0L195.8,351.4L198.3,354.3L199.1,354.8L202.3,355.5L205.6,356.3L206.6,356.5L208.8,356.1L209.6,356.2L211.6,357.2L212.6,357.3L215.8,356.9L219.1,355.5L221.6,354.0L222.1,353.9L222.6,354.0L225.1,355.4L228.3,356.2L231.6,356.9L232.6,357.0L233.3,356.8L235.6,355.0L236.6,354.4L237.3,353.6L238.3,351.8L241.6,343.7L242.6,341.2L243.1,340.4L243.3,340.1L243.6,340.0L243.8,340.1L244.3,340.4L247.3,345.0L248.3,345.9L249.1,346.2L250.1,346.2L250.8,345.9L251.6,345.3L253.6,342.6L254.3,342.0L255.1,341.7L255.3,341.7L255.6,341.8L256.1,342.3L256.8,343.6L259.1,349.1L259.6,349.8L259.8,350.1L260.1,350.2L260.3,350.2L260.8,349.9L263.8,345.9L264.6,345.2L265.3,345.0L266.1,345.0L267.1,345.4L269.1,346.8L271.8,347.2L272.6,347.1L275.3,345.2L277.6,344.6L278.3,344.2L279.3,343.1L279.6,342.7L279.8,341.2L280.6,333.1L280.8,331.2L281.1,330.7L281.3,331.9L282.3,342.5L282.6,344.1L283.6,348.0L284.1,349.3L284.3,349.6L284.6,349.8L285.1,349.8L285.6,349.5L286.6,348.3L287.8,346.5L288.3,346.1L288.6,346.0L288.8,346.0L289.1,346.1L289.6,346.6L292.6,351.9L293.3,352.9L293.8,353.2L294.1,353.3L294.3,353.2L294.8,352.9L297.3,348.8L297.8,348.2L298.3,348.0L299.8,348.3L300.8,348.9L301.8,349.9L303.6,352.3L304.1,352.7L304.6,352.8L307.1,351.7L308.3,350.7L308.8,350.1L309.1,348.9L310.3,333.3L310.6,331.6L310.8,331.4L311.1,332.9L312.3,348.5L312.6,350.1L313.1,351.1L313.6,351.8L314.1,352.1L315.1,352.3L317.1,353.3L320.3,353.6L323.6,353.9L325.1,354.1L326.1,353.8L328.1,352.8L330.3,352.6L331.6,352.0L334.8,350.1L336.3,349.5L337.1,349.5L340.1,350.8L341.1,351.6L343.3,354.5L343.8,354.9L344.3,355.1L347.6,354.6L350.3,354.1L351.8,354.0L353.8,353.4L354.6,353.4L356.8,354.6L360.1,354.6L362.8,354.5L364.1,354.1L365.1,353.3L367.1,351.0L367.6,350.6L368.1,350.5L368.6,350.6L370.3,351.2L372.8,351.5L376.1,352.5L377.8,352.8L378.6,352.6L380.8,351.4L382.8,351.0L383.8,350.3L386.6,347.5L389.3,342.4L390.1,341.5L390.6,341.2L391.1,341.1L391.8,341.5L394.3,343.8L395.1,344.0L395.6,344.0L396.1,343.9L396.8,343.3L400.1,338.7L401.3,337.1L403.1,333.8L403.6,333.3L403.8,333.2L405.8,334.1L407.1,335.2L408.6,337.0L409.6,337.6L412.6,338.5L415.8,339.9L417.3,340.5L418.1,340.6L420.1,340.0L421.1,340.2L422.6,340.7L425.6,340.5L428.8,340.9L430.3,340.8L431.1,340.4L433.6,338.0L436.1,337.0L439.3,334.6L442.6,331.9L443.6,330.7L444.6,328.8L447.1,322.7L449.6,318.2L452.8,310.7L456.1,301.4L456.8,299.9L457.3,299.2L457.8,298.9L458.1,298.8L458.3,298.9L458.8,299.3L459.3,300.0L462.6,308.4L463.6,310.7L464.1,311.4L464.3,311.7L464.6,311.8L464.8,311.8L465.1,311.5L465.6,310.6L468.8,299.1L471.8,289.6L473.3,286.3L473.8,285.6L474.3,285.2L474.8,285.1L475.1,285.1L475.3,285.3L475.8,286.1"/>
<path clip-path="url(#cp2)" stroke-width="1.05" stroke-dasharray="2.9 0.9 0.9 0.9" d="M62.8,332.4L65.3,320.8L67.5,313.8L70.8,306.1L74.0,300.3L76.0,297.0L78.3,294.8L79.0,294.4L81.5,294.1L81.8,293.9L82.3,292.8L83.0,290.7L83.3,290.2L83.5,289.9L83.8,289.9L84.0,290.1L84.3,290.7L84.8,292.4L86.8,302.7L87.3,304.6L87.8,305.8L90.5,308.8L91.3,309.3L91.8,309.4L92.0,309.4L92.3,309.3L94.0,307.3L94.3,307.1L94.5,307.0L94.8,307.2L95.0,307.5L95.5,308.6L97.8,317.4L98.3,318.8L98.5,319.2L98.8,319.4L99.0,319.4L99.3,319.2L99.8,318.2L101.5,312.8L102.0,311.8L102.3,311.6L102.5,311.6L102.8,311.9L103.0,312.4L103.8,315.3L105.3,322.5L105.8,324.1L106.0,324.6L106.3,324.8L107.0,325.0L107.3,325.0L107.5,322.0L108.3,300.7L108.5,298.9L108.8,302.5L109.5,325.5L109.8,329.5L110.5,333.6L111.0,335.5L111.3,336.1L111.5,336.5L111.8,336.6L112.0,336.4L112.3,335.8L112.8,333.8L114.3,326.1L114.5,325.3L114.8,324.7L115.0,324.6L115.3,324.6L115.5,324.9L116.0,325.7L119.3,335.2L120.3,337.5L120.8,338.2L121.0,338.4L121.3,338.5L121.5,338.4L122.0,338.1L125.3,332.9L126.3,331.7L126.8,331.3L127.0,331.3L127.3,331.4L127.8,331.9L130.1,336.8L130.6,337.5L130.8,337.7L131.1,337.7L131.3,337.6L131.8,337.0L133.6,333.8L134.1,333.3L134.3,333.1L134.6,333.1L134.8,333.3L135.3,334.1L137.1,338.2L137.3,338.6L137.6,338.8L137.8,338.9L138.1,338.7L138.3,338.4L138.8,337.3L141.1,328.8L141.6,327.4L141.8,326.9L142.1,326.6L142.3,326.5L142.6,326.6L143.1,327.1L146.3,333.0L147.1,334.1L148.6,335.2L149.3,335.5L149.8,335.4L150.1,335.2L150.3,334.9L150.6,334.3L150.8,333.4L151.3,330.5L151.8,325.3L152.3,317.4L154.3,268.0L154.6,263.4L154.8,260.1L155.1,259.5L155.6,259.5L155.8,262.2L156.3,271.5L157.8,308.7L158.6,321.6L159.1,326.9L159.6,330.1L160.1,331.8L160.3,332.4L160.6,332.7L161.1,333.1L161.8,333.3L162.3,333.7L163.1,334.9L164.8,338.8L165.3,339.6L165.6,339.8L165.8,340.0L166.1,340.0L166.8,339.5L170.1,336.9L171.3,335.7L174.6,330.1L175.3,329.2L175.8,328.9L176.1,328.9L176.3,329.1L176.8,329.6L179.3,334.8L182.3,339.2L182.8,339.6L183.1,339.7L183.3,339.7L183.6,339.6L183.8,339.3L184.1,338.8L184.3,337.9L184.6,336.6L185.1,332.2L185.6,324.7L186.3,306.7L187.6,270.6L187.8,265.8L188.1,262.8L188.3,261.7L188.6,262.7L188.8,265.8L189.3,276.8L190.8,320.6L191.3,330.3L191.8,336.5L192.1,338.5L192.3,339.9L192.6,340.9L192.8,341.5L193.1,342.0L193.6,342.4L195.1,343.2L197.3,344.8L200.3,345.9L202.6,346.1L204.8,347.2L205.8,347.4L207.3,347.3L210.1,348.6L212.8,348.6L214.1,348.1L215.8,347.1L218.1,346.6L220.3,345.2L221.1,345.0L224.3,346.0L227.6,347.3L230.1,348.3L230.3,348.3L230.6,348.2L231.1,347.5L233.3,341.7L234.1,340.4L236.8,337.5L238.6,334.7L239.8,331.3L241.8,324.6L242.3,323.4L242.8,322.6L243.1,322.4L243.3,322.3L243.6,322.3L244.1,322.7L245.3,324.8L248.1,330.9L248.6,331.6L248.8,331.8L249.1,331.8L249.3,331.8L249.6,331.6L250.1,331.0L253.3,322.8L254.1,321.2L254.6,320.5L254.8,320.3L255.1,320.2L255.3,320.2L255.6,320.5L256.1,321.8L258.8,335.2L259.3,336.9L259.8,338.0L260.1,338.3L260.3,338.4L260.6,338.3L261.1,337.8L261.8,336.5L263.8,331.4L264.3,330.4L264.6,330.1L264.8,329.9L265.1,329.9L265.3,330.0L265.8,330.5L269.1,337.3L269.6,337.9L269.8,338.1L270.3,338.2L270.8,337.9L271.3,337.5L273.3,334.2L274.1,333.4L274.6,333.2L275.1,333.2L275.6,333.5L277.8,335.7L278.3,335.9L278.6,335.9L278.8,335.7L279.1,335.2L280.3,330.7L280.6,330.0L280.8,329.5L281.1,329.4L281.3,329.8L281.8,332.1L282.6,336.6L282.8,337.8L283.1,338.4L283.8,339.6L284.1,339.9L284.3,340.0L284.6,339.9L284.8,339.8L285.3,339.1L287.3,335.3L287.8,334.7L288.3,334.3L288.6,334.2L289.1,334.3L289.6,334.6L290.6,335.9L292.6,339.3L293.1,339.9L293.6,340.2L294.1,340.3L296.1,339.2L298.6,336.9L299.1,336.6L299.6,336.7L300.1,337.1L303.1,342.0L303.8,342.8L304.3,343.1L304.8,343.2L305.6,343.1L306.3,342.6L308.6,340.1L308.8,339.8L309.1,338.8L310.3,330.3L310.6,329.4L310.8,329.3L311.1,330.0L312.3,338.0L312.6,339.1L314.3,342.2L314.8,342.8L315.3,343.1L318.6,343.0L321.3,342.1L323.6,342.2L325.8,341.5L326.3,341.5L326.8,341.7L329.1,343.8L329.8,344.2L330.6,344.3L331.8,344.0L335.1,341.8L337.8,338.8L338.3,338.6L338.8,338.6L339.3,338.8L340.1,339.6L342.6,343.6L343.6,344.6L344.3,345.1L344.8,345.2L345.8,344.9L347.8,343.9L350.1,343.4L352.3,341.9L353.1,341.8L356.3,342.6L359.6,343.2L361.1,343.5L362.6,344.2L363.1,344.2L363.6,344.0L366.3,341.0L368.1,340.1L370.6,339.8L373.8,340.3L376.1,341.4L376.8,341.5L379.6,340.2L381.3,339.8L384.6,337.5L386.1,336.2L386.8,335.1L390.1,328.1L390.6,327.4L390.8,327.1L391.1,327.0L391.3,326.9L391.6,327.0L392.1,327.4L394.1,330.6L394.3,330.8L394.6,331.0L397.8,330.4L400.1,329.3L400.6,328.8L403.3,323.4L403.8,322.8L404.1,322.7L404.3,322.7L404.8,322.9L405.3,323.4L407.8,328.2L408.3,328.8L411.6,329.7L413.8,329.9L415.6,330.4L416.3,330.4L418.8,329.0L422.1,329.1L425.3,329.5L427.1,329.7L428.8,330.3L429.6,330.3L430.3,330.0L432.8,327.9L436.1,326.2L438.6,325.0L441.8,322.9L442.6,322.2L443.1,321.4L443.3,320.8L443.8,318.6L445.3,309.6L446.1,304.4L446.3,303.3L447.1,301.2L447.3,300.7L447.6,300.4L447.8,300.3L448.1,300.4L448.6,300.8L450.8,304.5L451.3,305.0L451.6,305.0L451.8,305.0L452.3,304.6L455.1,300.0L455.6,298.6L457.1,292.5L457.3,291.8L457.6,291.3L457.8,291.1L458.1,291.2L458.3,291.3L458.8,291.9L462.1,298.8L463.8,303.8L464.3,304.7L464.6,305.0L464.8,305.2L465.1,305.1L465.3,304.8L465.6,304.1L466.1,302.0L468.8,284.2L471.3,272.6L472.1,270.3L473.6,267.1L474.3,266.0L475.6,264.8L475.8,264.7"/>
<path clip-path="url(#cp2)" stroke-width="1.1" stroke-dasharray="1.9 0.7" d="M62.8,327.0L65.3,315.8L68.5,305.4L71.8,298.6L73.5,294.9L74.3,293.9L74.8,293.5L78.0,293.0L79.0,292.7L79.5,292.4L79.8,292.0L80.3,290.8L81.8,285.4L82.8,280.3L83.3,278.6L83.5,278.2L83.8,278.3L84.0,278.7L84.5,280.4L87.3,296.4L87.8,298.3L89.3,301.3L90.0,302.3L90.8,302.9L91.3,303.1L91.5,303.1L91.8,302.9L92.3,302.2L93.8,298.9L94.3,298.1L94.5,298.0L94.8,298.1L95.0,298.5L95.5,299.9L97.8,310.2L98.3,311.6L98.5,312.0L98.8,312.1L99.0,311.9L99.5,311.1L101.5,305.4L102.0,304.5L102.3,304.3L102.5,304.3L102.8,304.5L103.0,304.9L103.5,306.4L105.3,314.0L105.8,315.5L106.0,315.9L106.3,316.0L107.3,315.8L107.5,313.6L108.3,298.6L108.5,297.3L108.8,300.2L109.5,318.4L109.8,322.0L110.5,326.5L111.0,328.5L111.3,329.2L111.5,329.5L111.8,329.5L112.0,329.1L112.5,327.3L114.0,319.3L114.5,317.5L114.8,317.0L115.0,316.9L115.3,317.0L115.8,317.5L116.5,319.0L119.5,328.2L120.3,329.8L120.8,330.4L121.0,330.6L121.3,330.7L121.8,330.6L122.5,330.0L123.5,328.8L125.8,324.5L126.3,323.8L126.5,323.6L126.8,323.5L127.0,323.5L127.3,323.6L127.8,324.3L130.1,329.0L130.6,329.6L130.8,329.8L131.1,329.9L131.3,329.9L131.8,329.5L133.8,326.0L134.1,325.7L134.3,325.5L134.6,325.5L134.8,325.7L135.3,326.6L136.8,330.6L137.1,331.0L137.3,331.4L137.6,331.5L137.8,331.4L138.1,331.1L138.6,329.8L141.1,318.7L141.6,317.2L141.8,316.7L142.1,316.4L142.3,316.3L142.6,316.3L143.1,316.9L143.8,318.4L146.1,324.9L146.6,325.9L147.1,326.6L148.8,327.4L149.3,327.4L149.6,327.2L149.8,326.9L150.1,326.5L150.3,325.7L150.8,323.2L151.3,318.9L151.8,312.5L154.3,260.4L154.6,259.5L156.1,259.5L156.3,261.7L158.3,301.5L158.8,308.4L159.3,313.3L159.8,316.3L160.3,318.1L160.8,319.0L161.8,320.4L164.3,325.8L165.1,327.0L165.6,327.4L166.1,327.5L167.8,327.0L171.1,324.3L171.6,323.6L172.6,321.1L174.3,315.8L174.8,314.7L175.3,314.0L175.6,313.8L175.8,313.8L176.1,313.9L176.6,314.5L179.8,323.2L181.6,327.5L182.1,328.4L182.3,328.7L182.6,328.8L182.8,328.9L183.1,328.8L183.3,328.5L183.6,328.1L183.8,327.4L184.1,326.4L184.6,323.2L185.1,317.6L185.8,304.1L187.3,267.4L187.6,262.7L187.8,259.5L188.6,259.5L188.8,259.6L189.3,268.3L191.1,310.8L191.6,319.3L192.1,325.1L192.6,328.8L193.1,331.0L193.6,332.3L194.3,333.4L195.3,334.2L196.8,334.8L198.1,334.7L200.6,333.5L201.1,333.5L201.6,333.7L204.3,335.9L206.6,337.5L208.3,338.9L209.8,339.4L211.3,339.4L212.6,338.9L214.1,338.1L215.1,337.9L216.6,338.0L217.1,337.8L217.8,337.3L220.3,334.4L221.6,333.6L222.1,333.4L222.6,333.4L223.3,333.8L226.6,336.9L228.6,338.6L229.1,338.8L229.6,338.8L230.1,338.4L230.8,337.3L234.1,329.9L237.3,321.9L239.3,315.8L241.6,307.0L242.3,304.8L242.8,303.7L243.3,303.1L243.6,302.9L243.8,303.0L244.1,303.1L244.6,303.7L245.3,305.6L248.1,316.1L248.8,318.1L249.3,318.9L249.6,319.1L249.8,319.2L250.1,319.1L250.3,318.7L250.8,317.7L251.8,314.1L253.6,306.5L254.1,304.9L254.6,303.9L254.8,303.6L255.1,303.5L255.3,303.6L255.6,304.0L256.1,305.4L259.3,323.4L259.8,325.4L260.1,326.0L260.3,326.4L260.6,326.5L260.8,326.4L261.1,326.2L261.6,325.2L263.8,318.8L264.3,317.8L264.6,317.5L264.8,317.2L265.1,317.2L265.3,317.2L265.6,317.5L266.1,318.3L266.8,320.4L268.8,328.1L269.3,329.4L269.6,329.9L269.8,330.2L270.1,330.4L270.3,330.3L270.6,330.1L271.1,329.3L273.6,323.0L274.3,321.7L274.6,321.4L274.8,321.3L275.1,321.3L275.3,321.4L275.8,322.4L277.6,327.9L278.1,329.0L278.3,329.2L278.6,329.2L278.8,329.0L280.3,326.2L280.6,325.8L280.8,325.7L281.1,325.7L281.3,326.0L281.8,327.3L283.3,333.0L283.6,333.6L283.8,334.1L284.1,334.3L284.3,334.2L284.6,334.0L285.1,333.2L287.6,326.4L288.1,325.4L288.3,325.1L288.6,324.9L288.8,324.9L289.1,325.0L289.6,325.6L292.6,333.5L293.3,334.8L293.6,335.0L293.8,335.2L294.1,335.2L294.6,335.0L295.1,334.5L295.8,333.3L297.6,329.2L298.1,328.4L298.3,328.1L298.6,328.0L298.8,327.9L299.3,328.1L300.1,329.0L303.3,334.8L303.8,335.4L304.3,335.7L304.6,335.7L305.3,335.3L308.3,332.6L308.8,331.9L309.1,331.0L310.3,323.3L310.6,322.5L310.8,322.4L311.1,323.0L311.6,325.6L312.3,330.4L312.6,331.5L313.6,333.2L314.3,334.1L315.1,334.6L315.8,334.7L316.6,334.5L317.6,333.8L319.3,332.0L319.8,331.7L320.3,331.6L321.1,331.8L323.1,332.8L324.8,333.3L328.1,335.0L329.8,335.6L330.6,335.6L331.3,335.2L333.3,333.5L334.8,332.8L335.3,332.2L337.3,328.6L337.8,328.0L338.1,327.9L338.3,327.9L338.6,328.0L339.1,328.6L341.1,332.5L343.3,335.5L344.1,336.1L344.6,336.2L345.1,336.1L348.3,334.0L351.6,330.9L354.6,329.2L355.6,329.0L358.1,329.6L359.1,330.2L361.8,333.6L362.6,334.2L363.6,334.4L364.6,334.3L365.3,334.0L367.8,331.4L368.3,331.1L368.8,331.0L371.8,332.0L372.8,332.6L374.6,334.4L375.1,334.7L375.6,334.8L376.3,334.7L379.6,333.8L382.8,333.0L384.1,332.4L386.3,330.7L386.8,329.9L388.6,325.4L390.3,318.0L390.6,317.3L390.8,316.8L391.1,316.7L391.3,316.9L391.6,317.4L393.3,324.2L394.3,327.3L394.6,327.7L394.8,327.9L395.8,327.9L396.6,327.8L399.8,325.2L400.1,325.0L400.3,324.7L400.8,323.3L403.1,312.1L403.6,310.6L403.8,310.3L404.1,310.3L404.3,310.7L404.8,312.3L406.3,319.5L406.6,320.3L406.8,320.8L407.1,320.9L407.6,320.8L409.3,319.8L409.8,319.7L410.1,319.8L410.6,320.4L411.6,322.6L413.1,326.8L413.6,327.7L413.8,328.0L414.1,328.1L414.6,328.0L415.1,327.7L417.1,325.0L417.6,324.6L418.1,324.4L418.8,324.5L420.8,325.7L422.6,327.1L423.3,327.4L425.8,327.2L427.6,327.5L428.6,327.3L431.8,325.9L434.3,324.4L436.6,323.5L438.3,322.4L439.3,322.2L440.6,322.2L441.3,321.9L443.1,320.2L443.3,319.6L443.8,317.3L446.1,304.3L447.1,300.2L447.3,299.4L447.6,298.9L447.8,298.7L448.1,298.8L448.6,299.2L450.6,301.8L451.1,302.2L451.6,302.5L452.3,302.3L453.1,301.9L453.8,301.1L455.1,298.9L455.6,297.4L456.8,292.2L457.3,290.7L457.6,290.3L457.8,290.2L458.3,290.5L459.1,291.4L461.8,296.6L463.6,300.7L464.3,302.0L464.8,302.4L465.1,302.4L465.3,302.2L465.6,301.8L466.1,300.0L468.8,282.7L471.1,272.4L472.1,269.1L473.6,265.4L474.1,264.7L474.3,264.6L475.8,264.5"/>
<path clip-path="url(#cp2)" stroke-width="1.18" stroke-dasharray="1.6 2.4" d="M62.8,319.0L65.5,307.5L68.8,298.5L72.0,292.3L75.3,287.7L78.5,284.6L79.8,282.7L80.8,280.5L81.3,279.0L81.8,276.3L82.5,271.8L83.8,266.1L84.3,264.5L84.5,264.1L84.8,263.9L85.0,264.2L85.3,264.9L85.8,267.3L87.0,275.2L87.3,276.3L89.8,282.9L90.8,284.7L91.5,285.6L92.0,285.9L92.5,285.9L93.3,285.5L94.8,284.0L97.5,280.0L99.5,275.9L101.3,269.4L101.5,268.7L101.8,268.3L102.0,268.2L102.3,268.6L102.5,269.5L104.3,280.2L105.5,284.6L105.8,285.3L106.0,285.7L106.3,285.9L107.3,286.0L107.5,285.5L108.3,281.8L108.5,281.5L108.8,282.6L109.8,293.4L110.8,300.0L111.3,302.3L111.5,302.9L111.8,303.0L114.8,302.0L115.0,302.0L115.3,302.1L115.5,302.4L116.0,303.4L119.0,314.0L119.5,315.2L119.8,315.6L120.0,315.9L120.3,316.0L120.5,315.9L121.0,315.6L121.8,314.4L125.0,306.3L125.8,305.0L126.3,304.4L126.5,304.3L126.8,304.2L127.0,304.3L127.3,304.5L127.8,305.3L130.1,310.7L130.6,311.5L130.8,311.7L131.3,311.7L134.1,310.6L134.6,310.5L135.1,310.7L136.1,311.5L137.8,313.5L138.3,313.8L138.6,313.9L138.8,313.8L139.1,312.9L141.3,292.5L141.6,290.8L141.8,289.8L142.1,289.8L142.3,290.6L143.6,298.8L144.6,302.4L146.1,305.9L147.6,308.6L148.1,309.1L148.3,309.2L148.6,309.2L148.8,309.1L149.1,308.8L149.3,308.2L149.8,306.4L150.3,303.4L151.1,296.2L153.3,261.9L153.6,259.5L156.6,259.5L156.8,259.8L158.6,284.3L159.3,291.9L159.8,295.4L160.3,297.8L160.6,298.7L160.8,299.2L161.1,299.5L161.3,299.6L161.6,299.5L162.6,298.6L162.8,298.5L163.1,298.6L163.6,299.0L164.3,300.2L166.1,304.1L166.6,304.9L166.8,305.1L167.1,305.3L167.6,305.2L168.3,304.8L169.6,303.3L171.6,299.9L172.1,298.6L174.6,288.6L175.1,287.0L175.6,286.1L175.8,285.9L176.1,286.0L176.3,286.2L176.8,287.5L179.6,300.6L180.8,303.7L181.6,305.0L181.8,305.2L182.1,305.4L182.3,305.3L182.6,305.1L182.8,304.7L183.3,303.0L183.8,300.2L184.3,296.1L185.1,286.9L186.6,261.9L186.8,259.5L189.3,259.5L189.6,261.1L191.3,290.9L192.1,299.8L192.6,303.9L193.1,306.8L193.6,308.6L194.1,309.7L194.6,310.3L195.3,310.8L198.6,311.3L200.8,311.8L201.3,312.2L202.3,313.7L205.1,319.2L205.8,320.1L209.1,322.1L212.3,323.3L214.8,323.6L215.6,323.3L218.8,320.2L221.1,316.8L221.6,316.3L222.1,316.0L222.3,316.0L222.8,316.2L223.6,317.1L226.3,321.7L226.8,322.2L227.3,322.5L227.8,322.5L228.6,322.1L231.8,318.2L235.1,313.8L236.6,310.9L239.8,300.6L242.3,291.7L242.8,290.4L243.1,289.9L243.3,289.6L243.6,289.5L243.8,289.6L244.1,289.9L244.6,291.0L245.8,294.6L246.1,295.1L246.3,295.4L246.6,295.5L246.8,295.4L248.1,293.8L248.3,293.5L248.6,293.4L248.8,293.5L249.1,293.8L249.6,294.9L251.1,299.7L251.6,300.8L251.8,301.0L252.1,300.9L252.3,300.2L252.8,297.3L254.3,284.6L254.8,281.7L255.1,281.0L255.3,280.9L255.6,281.5L255.8,282.4L257.8,296.9L260.1,308.1L260.8,310.6L261.1,311.2L261.3,311.5L261.6,311.7L261.8,311.7L262.1,311.5L262.6,310.7L264.1,307.7L264.6,306.9L264.8,306.7L265.1,306.7L265.3,306.8L265.8,307.4L266.6,308.9L268.8,315.2L269.3,316.2L269.8,316.8L270.1,317.0L270.3,317.0L270.6,316.8L271.1,315.9L272.1,312.7L273.8,306.1L274.3,304.8L274.6,304.4L274.8,304.2L275.1,304.1L275.3,304.3L275.6,304.9L276.1,306.6L277.6,313.7L278.1,315.3L278.3,315.8L278.6,316.0L281.1,316.5L281.3,316.7L282.6,319.0L282.8,319.3L283.8,319.9L284.6,320.0L284.8,319.9L285.3,319.3L287.8,313.0L288.3,312.2L288.6,312.0L288.8,311.9L289.1,312.0L289.3,312.2L289.8,313.1L292.6,321.6L293.1,322.7L293.6,323.4L293.8,323.6L294.3,323.5L295.1,322.9L297.6,319.6L298.3,318.9L298.8,318.8L299.3,318.9L300.1,319.6L303.3,324.7L304.1,325.5L304.6,325.7L305.8,325.5L308.3,324.1L308.6,324.0L308.8,323.6L310.1,320.7L310.3,320.3L310.6,320.0L310.8,320.0L311.1,320.3L311.6,321.5L312.3,323.9L312.6,324.5L312.8,324.9L313.1,325.0L315.6,324.7L316.1,324.3L317.1,323.0L319.3,319.0L320.1,318.1L320.6,317.8L320.8,317.8L321.3,318.0L322.1,318.7L324.3,322.2L327.1,326.0L327.8,326.6L328.3,326.8L329.3,326.6L331.3,325.5L333.1,324.0L333.6,323.3L335.8,318.3L336.3,317.5L336.6,317.2L336.8,317.0L337.1,317.0L337.3,317.2L337.6,317.5L338.3,319.3L339.6,323.0L342.6,328.1L343.8,329.5L344.6,329.9L345.1,330.0L345.6,329.8L346.1,329.3L347.3,327.3L349.8,322.3L353.1,316.9L353.8,316.1L354.3,315.7L354.8,315.6L358.1,316.5L358.6,316.9L359.6,318.2L362.8,324.8L363.8,326.2L364.3,326.7L367.6,328.0L370.8,328.8L373.1,329.0L373.6,328.8L374.3,328.1L377.3,323.3L377.8,322.8L378.3,322.5L378.8,322.5L379.6,322.9L382.8,326.5L384.1,327.6L384.8,327.9L385.1,327.9L385.3,327.8L385.8,327.4L386.6,326.3L388.6,321.9L390.3,315.1L390.6,314.4L390.8,314.0L391.1,313.9L391.3,314.2L391.6,314.7L393.3,322.0L394.3,324.3L394.6,324.6L395.1,324.7L396.3,324.2L399.1,321.9L399.6,321.0L400.6,317.8L402.6,309.8L403.1,308.4L403.6,307.6L403.8,307.4L404.1,307.5L404.3,307.9L404.8,309.6L406.6,318.4L406.8,319.3L407.1,319.8L407.3,320.0L407.6,319.9L408.1,319.6L409.1,318.5L409.6,318.2L409.8,318.2L410.1,318.3L410.6,319.0L413.1,324.8L413.6,325.5L413.8,325.7L414.1,325.7L414.3,325.6L414.8,325.2L417.1,321.9L417.6,321.5L417.8,321.4L418.6,321.5L419.8,322.3L422.8,325.0L423.8,325.5L427.1,325.9L430.1,326.0L430.6,325.9L431.6,325.1L433.8,322.5L435.1,321.8L438.3,321.1L441.6,320.3L443.1,319.5L443.3,318.8L443.8,316.2L444.8,309.1L447.3,298.4L447.6,297.7L447.8,297.5L448.1,297.6L448.6,297.9L450.8,301.4L451.3,301.9L451.6,302.0L452.1,301.9L452.6,301.6L453.6,300.4L455.1,297.9L455.6,296.5L457.1,290.7L457.3,290.1L457.6,289.7L457.8,289.5L458.1,289.5L458.6,289.9L459.3,290.9L462.1,296.3L463.8,300.6L464.3,301.5L464.6,301.8L464.8,302.0L465.1,302.0L465.3,301.8L465.6,301.2L466.1,299.3L468.8,282.0L471.3,270.7L472.1,268.4L473.3,265.6L473.8,264.9L474.1,264.6L474.3,264.5L475.8,264.5"/>
<path clip-path="url(#cp3)" stroke-width="1.1" d="M62.8,471.8L66.0,460.5L69.3,448.4L71.0,442.2L71.8,440.4L75.0,436.1L78.3,432.7L80.8,430.4L81.5,429.5L82.0,428.5L83.8,423.3L84.3,422.3L84.5,422.0L84.8,421.9L85.0,422.2L85.8,424.8L86.0,425.0L86.3,424.6L87.3,421.2L87.5,420.8L87.8,421.2L88.8,426.9L89.0,427.3L89.3,427.0L89.5,426.3L90.3,422.5L91.5,415.1L91.8,414.2L92.0,413.5L92.3,413.3L92.5,413.7L92.8,414.8L94.3,426.3L95.0,429.2L97.5,435.4L98.0,437.3L98.8,440.9L99.0,441.8L99.3,442.3L99.5,442.2L99.8,441.8L100.8,439.3L101.8,438.4L102.5,438.1L103.0,438.0L103.3,438.2L103.5,438.6L104.0,439.9L105.8,446.4L106.3,447.7L108.8,452.3L109.8,453.5L110.3,453.9L110.5,453.9L110.8,453.8L111.0,453.0L111.3,450.7L111.5,444.9L111.8,432.9L112.3,385.6L112.5,381.3L113.3,381.3L113.5,385.3L113.8,409.1L114.0,425.5L114.3,434.1L114.5,437.3L114.8,437.6L115.3,436.4L115.5,436.0L115.8,436.0L116.0,436.4L116.5,437.9L116.8,437.9L117.0,435.7L117.3,428.5L117.5,413.9L117.8,391.4L118.0,381.3L119.0,381.3L119.5,429.9L119.8,442.7L120.0,448.4L120.3,450.0L120.5,449.7L120.8,449.0L121.0,448.5L121.3,448.6L121.5,449.4L122.8,457.0L123.3,458.7L126.5,464.2L128.1,466.4L128.8,467.0L132.1,468.1L133.3,468.2L133.6,468.0L134.6,465.6L134.8,465.1L135.1,465.0L135.3,465.1L135.8,465.7L138.3,471.9L140.6,474.8L141.6,475.6L142.1,475.8L142.3,475.8L142.6,475.7L142.8,475.5L143.3,474.8L144.1,472.8L144.3,472.0L144.6,470.5L145.3,462.0L145.8,452.5L146.8,428.8L147.1,425.3L147.3,424.0L147.6,425.9L148.6,450.5L148.8,455.0L149.6,464.1L149.8,466.1L150.1,467.1L150.3,466.2L150.6,463.0L152.6,416.7L152.8,412.2L153.1,410.1L153.3,411.4L153.6,416.4L154.6,446.1L155.3,464.0L155.6,468.7L155.8,471.8L156.3,474.2L156.8,475.8L157.3,477.0L158.8,478.9L159.8,479.7L160.6,480.0L161.1,480.0L161.8,479.5L163.3,478.2L163.8,478.0L164.6,478.1L167.8,480.2L169.1,480.9L172.3,481.7L175.6,482.2L178.8,482.6L182.1,482.9L183.1,482.8L183.6,482.5L184.1,481.9L184.6,480.6L185.1,478.5L185.6,475.0L185.8,472.5L186.1,469.0L186.3,463.5L186.6,454.4L186.8,439.8L187.3,390.8L187.6,381.3L188.8,381.3L189.3,432.2L189.6,449.5L189.8,460.5L190.1,467.3L190.3,471.5L190.8,476.5L191.3,479.5L191.8,481.4L192.3,482.4L192.8,482.9L193.3,483.2L196.6,482.7L199.8,482.2L203.1,482.6L206.3,483.4L209.6,484.3L212.8,485.2L214.8,485.4L215.8,485.2L217.3,484.2L217.6,483.9L217.8,483.5L218.8,480.1L219.1,479.4L219.3,479.0L219.6,479.1L219.8,479.8L220.8,484.1L221.1,484.6L221.8,485.3L222.1,485.4L225.3,484.9L228.6,483.9L231.8,483.3L234.1,483.7L237.3,485.3L240.3,486.5L243.6,487.0L246.8,487.4L250.1,487.6L253.3,486.4L256.6,486.0L259.1,485.5L259.3,485.2L259.8,483.8L260.8,480.1L261.3,478.8L261.6,478.6L261.8,478.7L262.1,479.3L263.3,484.4L264.3,487.4L264.6,487.8L264.8,487.9L265.8,487.6L268.6,485.7L269.3,485.5L270.1,485.6L273.3,487.9L274.1,488.2L275.3,488.1L278.6,486.4L281.8,484.2L284.1,482.7L285.1,482.3L285.8,482.4L286.8,482.9L290.1,486.1L291.1,486.9L291.8,487.1L295.1,487.4L298.3,487.5L301.6,487.6L302.8,487.6L303.6,487.2L305.1,485.7L306.8,483.3L307.3,482.3L308.3,479.8L308.6,479.4L308.8,479.1L309.1,479.0L309.3,479.3L310.6,483.4L310.8,483.9L311.1,484.0L311.6,483.9L313.8,482.3L314.3,482.2L314.6,482.2L315.1,482.5L316.8,484.9L317.3,485.3L317.6,485.4L318.6,485.2L319.6,484.6L320.8,483.3L321.1,482.5L321.3,480.9L322.3,470.0L322.6,465.5L323.3,447.3L323.6,444.6L323.8,445.5L324.1,449.1L324.8,465.0L325.6,474.3L326.1,478.3L327.3,482.2L328.3,484.3L329.3,485.7L330.1,486.3L333.3,487.1L336.6,487.1L339.8,486.6L343.1,486.3L346.3,486.0L349.6,485.7L352.6,485.1L355.8,483.4L359.1,481.8L362.3,480.7L365.6,479.6L368.8,478.0L372.1,476.9L374.1,476.9L377.3,478.1L380.6,479.7L383.8,480.5L387.1,481.0L387.8,481.0L388.1,480.6L388.3,479.7L389.3,473.3L390.1,465.9L390.3,465.0L390.6,465.6L391.6,473.2L392.8,478.5L393.1,479.3L393.3,479.8L393.6,480.0L394.3,479.9L395.6,479.2L398.1,476.8L398.8,475.4L401.1,469.5L401.6,468.7L401.8,468.4L402.1,468.2L402.3,468.2L402.6,468.4L403.1,469.1L405.1,474.2L408.1,477.6L409.6,478.7L410.6,479.0L413.8,478.7L417.1,477.7L419.8,476.6L423.1,473.1L426.3,470.5L429.6,468.5L431.1,467.7L432.1,466.8L432.3,466.5L432.6,466.0L433.1,463.9L433.6,460.8L434.3,451.1L434.6,448.8L435.6,444.5L436.1,443.0L436.6,442.0L436.8,441.8L437.1,441.7L437.3,441.8L437.8,442.2L439.6,445.1L440.3,447.0L441.1,449.7L441.6,453.1L442.6,461.9L442.8,463.5L443.8,467.3L444.6,469.3L445.1,470.3L445.6,471.0L447.6,472.1L450.8,473.1L451.8,473.7L453.3,475.5L456.1,479.7L459.3,482.2L461.3,483.1L462.6,483.3L464.3,482.9L467.6,481.0L470.8,478.8L474.1,476.0L475.3,474.8L475.6,474.7L475.8,474.7"/>
<path clip-path="url(#cp3)" stroke-width="1.05" stroke-dasharray="3.4 0.7" d="M62.8,479.7L66.0,468.5L69.3,456.2L72.3,444.9L75.5,435.7L76.5,433.2L77.0,432.4L80.3,429.8L81.5,428.2L82.0,427.2L83.8,421.8L84.3,420.7L84.5,420.4L84.8,420.3L85.0,420.7L85.8,423.7L86.0,424.0L86.3,423.7L87.3,420.0L87.5,419.6L87.8,419.8L88.0,421.0L88.5,424.1L88.8,425.3L89.0,425.6L89.3,425.2L89.5,424.5L91.5,414.1L91.8,413.2L92.0,412.6L92.3,412.4L92.5,412.8L92.8,413.9L94.3,424.7L94.8,426.6L96.0,429.5L97.3,432.1L97.8,433.5L98.8,438.5L99.0,439.4L99.3,440.0L99.5,440.0L99.8,439.7L100.8,436.9L101.8,435.7L102.3,435.3L102.8,435.2L103.0,435.2L103.3,435.5L103.8,436.6L105.8,444.1L106.3,445.3L108.8,449.4L109.5,450.3L109.8,450.4L110.0,450.5L110.3,450.2L110.5,449.4L110.8,447.4L111.0,443.3L111.3,435.9L111.5,424.2L112.0,387.5L112.3,381.3L113.5,381.3L113.8,383.8L114.3,414.9L114.5,423.9L114.8,429.0L115.0,431.3L115.3,432.1L115.5,432.4L115.8,432.4L116.0,432.3L116.3,431.7L116.5,429.9L116.8,425.6L117.0,417.5L117.5,388.3L117.8,381.3L119.0,381.3L119.3,384.3L119.8,421.0L120.0,432.6L120.3,439.5L120.5,442.9L120.8,444.2L121.3,445.2L121.5,446.1L122.8,453.5L123.3,455.2L126.5,460.9L127.3,461.9L128.1,462.4L128.8,462.6L131.6,463.2L133.3,462.9L133.6,462.8L134.6,461.1L134.8,460.8L135.1,460.7L135.3,460.8L135.8,461.4L136.8,463.6L138.3,467.7L139.6,469.8L140.3,470.6L141.1,471.0L142.1,471.2L142.6,471.1L143.1,470.7L143.6,470.0L144.3,468.1L144.6,466.7L145.3,458.1L145.8,449.1L146.8,427.1L147.1,424.0L147.3,422.8L147.6,424.5L148.6,447.5L149.3,458.1L149.8,462.8L150.1,463.8L150.3,463.0L150.6,460.0L152.6,416.0L152.8,411.7L153.1,409.6L153.3,410.8L153.6,415.3L155.3,461.9L155.6,466.9L155.8,469.7L156.1,470.2L157.6,471.3L160.3,472.3L161.1,472.3L161.6,472.1L163.3,470.6L163.8,470.4L164.3,470.6L167.1,473.0L170.3,474.7L171.6,475.1L174.8,475.4L177.1,475.8L179.1,476.6L179.8,476.6L181.8,476.1L183.1,476.1L183.6,475.8L183.8,475.6L184.1,475.1L184.3,474.4L184.6,473.4L184.8,471.8L185.1,469.4L185.3,465.9L185.6,460.8L186.1,443.6L186.6,414.9L187.1,381.3L189.1,381.3L189.3,389.1L190.1,438.6L190.6,458.0L190.8,464.0L191.1,468.1L191.3,471.0L191.6,472.9L191.8,474.2L192.1,475.1L192.3,475.7L192.6,476.1L192.8,476.3L193.1,476.5L193.6,476.5L195.1,476.0L197.8,476.3L200.1,476.0L203.1,476.4L205.6,477.6L207.8,477.4L208.6,477.6L210.8,478.9L214.1,479.1L214.8,479.0L215.3,478.7L217.6,475.8L217.8,475.1L218.8,470.0L219.1,468.9L219.3,468.4L219.6,468.4L219.8,469.0L221.1,474.9L221.3,475.6L222.6,477.7L222.8,477.9L223.6,478.2L224.3,478.2L227.6,476.7L229.3,475.9L230.3,475.7L233.6,476.0L234.3,476.2L235.3,476.8L237.1,478.3L238.1,478.7L240.3,478.9L242.8,478.5L245.1,478.9L246.1,478.7L247.6,478.1L248.6,478.0L250.1,478.2L253.3,477.4L256.1,476.9L257.3,477.0L257.8,476.8L258.3,476.4L259.1,475.2L259.6,474.2L260.1,472.4L261.1,467.9L261.3,467.2L261.6,466.9L261.8,467.2L262.1,467.8L263.3,473.9L263.6,474.8L264.6,476.6L265.6,477.7L268.8,479.1L271.3,480.4L272.1,480.5L274.3,479.7L276.8,479.8L280.1,479.0L282.8,477.7L286.1,477.0L286.8,477.0L287.6,477.2L290.1,479.5L291.1,479.9L294.3,480.0L296.1,480.1L297.6,480.5L298.3,480.4L300.3,479.5L301.1,479.5L303.3,480.1L303.6,480.1L303.8,480.0L304.3,479.6L307.1,474.6L308.3,471.2L308.6,470.8L308.8,470.5L309.1,470.4L309.3,470.7L309.8,471.7L311.3,476.8L311.6,477.4L311.8,477.8L312.1,477.9L312.3,477.8L312.6,477.6L314.3,473.4L314.8,472.6L315.1,472.4L315.3,472.3L315.6,472.5L316.1,473.1L317.8,476.4L318.3,477.0L318.6,477.1L318.8,477.1L319.1,477.0L319.6,476.6L320.3,475.2L320.8,474.0L321.1,473.2L321.6,470.6L322.3,464.9L322.6,461.5L323.3,446.9L323.6,444.7L323.8,445.5L324.1,448.5L324.8,461.0L325.1,463.4L326.1,469.7L326.8,472.9L327.3,474.2L329.3,477.5L330.3,478.5L331.6,479.0L332.8,479.1L335.6,478.6L337.6,478.6L339.8,477.6L340.6,477.5L342.6,478.1L345.8,477.5L348.3,476.9L350.8,477.1L353.3,476.1L355.6,476.1L356.8,475.6L360.1,473.5L361.6,472.4L364.3,471.7L366.3,470.6L367.3,470.5L368.8,470.5L372.1,469.3L374.6,468.7L377.1,469.0L378.1,468.8L379.6,468.2L380.6,468.2L382.1,468.5L385.3,468.0L387.8,467.9L388.1,467.6L388.3,466.8L389.3,461.6L390.1,456.4L390.3,455.8L390.6,456.2L391.6,461.6L392.8,466.4L393.3,467.7L393.6,468.0L394.6,468.1L395.3,467.9L398.3,465.4L400.8,461.6L401.3,461.1L401.8,460.9L402.1,460.9L402.6,461.1L405.8,465.5L407.6,468.0L408.8,469.0L412.1,470.2L413.3,470.3L415.8,469.4L416.8,468.6L419.1,465.6L419.8,465.0L423.1,464.0L425.8,462.9L429.1,460.2L430.1,458.8L431.3,456.2L434.6,444.8L436.8,436.4L437.3,435.2L437.6,434.9L437.8,434.9L438.1,435.1L438.6,436.0L441.1,443.8L442.8,450.6L445.1,456.9L445.8,458.4L447.6,460.3L448.6,460.9L451.8,461.9L453.3,462.9L456.1,466.1L456.8,466.7L457.6,466.8L459.1,466.6L461.3,466.9L464.6,465.5L467.8,463.5L469.3,462.7L470.1,461.9L473.3,457.1L474.8,454.7L475.3,453.7L475.6,453.5L475.8,453.5"/>
<path clip-path="url(#cp3)" stroke-width="1.05" stroke-dasharray="2.9 0.9 0.9 0.9" d="M62.8,471.1L66.0,460.2L69.3,447.5L70.5,442.9L71.5,440.3L74.8,434.9L78.0,431.3L80.3,429.0L81.5,427.0L82.3,425.0L83.5,421.2L84.0,420.1L84.3,419.7L84.5,419.6L84.8,419.6L85.0,420.0L85.8,423.0L86.0,423.2L86.3,422.8L87.3,418.8L87.5,418.4L87.8,418.7L88.8,424.6L89.0,425.0L89.3,424.7L89.5,424.0L90.0,421.7L91.5,412.7L91.8,411.6L92.0,411.0L92.3,410.7L92.5,411.1L92.8,412.1L94.3,422.5L94.8,424.3L97.0,429.5L97.8,431.9L98.8,436.5L99.0,437.4L99.3,437.8L99.5,437.7L99.8,437.2L100.8,434.2L101.0,433.9L101.8,433.3L102.5,433.1L103.0,433.2L103.3,433.3L103.8,434.2L106.0,441.5L108.5,445.8L109.3,446.7L109.5,446.8L109.8,446.6L110.0,445.9L110.3,444.3L110.5,441.3L110.8,436.4L111.0,428.7L111.5,404.5L111.8,388.5L112.0,381.3L113.8,381.3L114.0,385.2L114.5,411.7L114.8,420.9L115.0,427.3L115.3,431.2L115.5,433.1L115.8,433.3L116.0,431.9L116.3,428.5L116.5,422.8L117.0,402.8L117.3,388.8L117.5,381.3L119.3,381.3L119.5,384.5L120.0,413.1L120.3,423.1L120.5,430.1L120.8,434.7L121.0,437.6L122.5,448.8L123.0,451.3L123.5,452.7L125.0,455.3L126.3,456.7L128.3,458.1L129.1,458.4L130.3,458.3L133.6,457.5L134.3,457.4L134.8,457.7L135.3,458.3L137.8,463.4L138.3,464.1L138.8,464.5L142.1,465.6L142.8,465.8L143.1,465.9L143.3,465.7L143.6,465.2L144.3,462.9L144.6,461.6L145.3,455.0L145.8,447.0L146.8,426.3L147.1,423.2L147.3,422.0L147.6,423.7L148.6,445.8L149.3,455.7L149.8,460.2L150.1,461.1L150.3,460.5L150.6,457.6L152.1,426.5L152.6,414.5L152.8,410.1L153.1,408.0L153.3,409.1L153.6,413.5L155.3,457.5L155.6,461.8L155.8,464.4L156.1,465.0L156.8,465.9L157.6,466.4L159.3,466.6L160.8,466.1L162.8,464.5L163.6,464.2L166.1,465.0L167.1,465.7L169.3,468.0L172.6,469.7L175.3,470.0L177.8,471.4L180.3,471.6L182.3,472.3L182.6,472.3L182.8,472.2L183.1,472.0L183.3,471.6L183.6,470.9L183.8,469.9L184.1,468.4L184.3,466.3L184.8,459.3L185.3,447.3L186.1,418.5L186.8,381.3L189.3,381.3L189.6,387.9L190.6,434.7L191.1,450.7L191.6,460.9L191.8,464.2L192.1,466.5L192.3,468.1L192.6,469.2L192.8,469.9L193.1,470.3L193.3,470.5L193.8,470.7L195.6,470.5L198.8,468.9L200.8,468.0L201.6,467.9L202.3,468.1L204.6,469.7L206.8,470.5L210.1,472.5L212.3,473.3L215.3,473.0L216.3,472.5L217.1,471.8L217.6,471.2L217.8,470.6L218.8,466.3L219.1,465.5L219.3,465.0L219.6,465.0L219.8,465.5L221.1,470.5L221.3,471.1L222.3,472.3L222.8,472.6L223.3,472.7L224.8,472.3L226.1,471.4L228.1,469.5L228.8,469.1L231.3,468.6L232.6,468.3L233.3,468.4L236.6,470.7L238.8,472.0L239.8,472.2L243.1,471.8L243.8,471.4L246.6,468.4L248.6,467.3L249.8,467.1L250.6,467.2L253.8,469.2L256.3,471.6L256.8,471.9L257.3,472.0L257.8,471.7L259.6,469.2L261.1,465.5L261.3,465.1L261.6,464.9L261.8,465.0L262.1,465.4L263.6,469.6L265.1,472.1L265.6,472.6L268.1,473.5L269.8,474.5L270.6,474.7L272.8,474.1L276.1,474.5L278.8,474.8L279.6,474.6L282.8,472.8L285.1,471.1L285.6,470.9L286.1,470.8L286.8,471.2L290.1,473.9L291.1,474.5L291.6,474.7L294.3,474.2L296.3,474.5L297.3,474.4L298.8,473.9L299.6,473.9L302.8,474.9L303.6,475.0L303.8,474.9L304.1,474.6L304.6,473.7L307.6,465.9L308.1,465.1L308.3,465.0L308.6,465.0L308.8,465.2L309.3,466.1L311.1,470.7L311.6,471.6L311.8,471.9L312.1,472.1L312.3,472.0L312.6,471.9L313.1,471.0L314.6,467.2L315.1,466.4L315.3,466.2L315.6,466.3L315.8,466.5L316.3,467.5L317.8,471.6L318.3,472.5L318.6,472.6L318.8,472.6L319.3,472.2L320.8,469.6L321.1,469.0L321.6,466.8L322.3,462.1L322.6,459.4L323.3,448.4L323.6,446.7L323.8,447.1L324.1,449.0L324.8,457.2L326.1,464.1L326.8,467.1L327.3,468.3L328.8,470.5L330.3,471.9L331.1,472.3L331.8,472.4L335.1,471.3L336.3,470.6L338.1,469.3L338.6,469.1L339.1,469.2L341.8,471.3L342.6,471.6L344.1,471.4L346.8,470.0L347.8,469.9L349.3,470.0L351.6,469.2L352.3,469.2L355.6,470.2L357.6,470.4L358.3,470.2L361.6,467.6L364.3,465.2L365.3,464.7L368.6,464.4L371.8,463.8L373.1,463.5L375.6,464.0L376.3,463.9L378.3,462.9L381.6,462.7L384.8,462.7L386.3,462.5L387.8,463.1L388.1,462.8L388.3,461.8L389.3,454.8L390.1,446.8L390.3,445.8L390.6,446.3L391.6,453.9L392.8,459.8L393.1,460.6L393.3,461.2L393.6,461.5L394.6,461.4L397.1,460.3L398.1,459.5L400.6,455.8L401.3,455.1L402.1,454.7L402.6,454.7L403.1,455.0L403.8,455.7L406.3,460.3L407.1,462.0L407.3,462.4L407.6,462.7L410.3,463.9L413.6,463.8L414.6,463.9L415.3,463.6L418.1,460.8L421.3,459.2L423.6,458.2L426.6,455.8L428.1,455.0L428.8,454.3L431.6,450.0L432.8,446.8L436.1,435.8L436.8,433.3L437.3,432.1L437.6,431.8L437.8,431.7L438.1,431.8L438.3,432.0L438.8,432.8L440.8,438.9L442.6,445.4L445.6,452.2L446.1,452.9L447.1,453.8L449.6,454.8L451.8,455.0L452.3,455.3L453.1,456.0L454.8,458.5L455.6,459.1L456.3,459.4L459.6,459.5L462.8,458.6L465.8,456.3L467.8,455.5L468.8,454.6L472.1,450.1L475.3,443.7L475.6,443.5L475.8,443.5"/>
<path clip-path="url(#cp3)" stroke-width="1.1" stroke-dasharray="1.9 0.7" d="M62.8,469.4L66.0,458.5L69.3,446.3L71.5,439.5L72.8,436.9L76.0,432.1L79.3,428.4L81.8,424.6L84.0,418.7L84.5,418.0L84.8,417.8L85.0,418.2L85.8,420.9L86.0,421.1L86.3,420.7L87.3,417.0L87.5,416.6L87.8,416.9L88.8,422.6L89.0,422.9L89.3,422.6L89.5,421.8L91.5,410.1L91.8,409.1L92.0,408.4L92.3,408.1L92.5,408.4L92.8,409.3L94.3,419.6L95.8,424.4L97.8,429.2L98.8,432.7L99.0,433.3L99.3,433.6L99.5,433.5L99.8,433.1L100.8,430.2L101.8,429.3L102.5,428.9L103.0,428.8L103.3,429.0L103.5,429.3L104.0,430.5L105.8,435.9L108.5,440.7L108.8,441.0L109.0,441.0L109.3,440.6L109.5,439.7L109.8,438.0L110.0,435.1L110.3,430.8L110.8,416.6L111.5,381.6L111.8,381.3L114.3,381.3L115.0,408.9L115.3,414.5L115.5,417.4L115.8,417.6L116.0,415.1L116.3,409.9L117.0,381.3L119.8,381.3L120.0,387.5L120.5,408.2L121.0,422.1L121.5,430.7L122.0,436.2L122.5,439.7L123.0,441.6L123.3,442.2L123.5,442.6L124.3,443.1L127.5,444.9L128.8,445.3L132.1,445.3L132.6,445.4L133.3,446.1L135.1,448.6L135.8,449.2L136.6,449.4L138.8,449.3L139.3,449.4L139.8,449.8L142.1,453.3L142.6,453.9L143.1,454.2L143.3,454.1L143.6,453.9L144.1,453.0L144.3,452.4L144.6,451.5L145.3,446.4L145.6,443.7L146.8,423.2L147.1,420.7L147.3,419.8L147.6,421.1L148.1,429.0L148.6,438.6L149.6,449.7L149.8,451.4L150.1,452.2L150.3,451.6L150.6,449.2L151.8,428.3L152.6,412.4L152.8,408.6L153.1,406.7L153.3,407.8L153.6,411.9L154.3,430.2L155.3,444.8L155.8,449.5L156.3,451.7L156.8,453.2L157.1,453.5L157.8,454.0L158.6,454.1L160.6,453.8L162.1,454.1L162.3,453.9L163.8,450.4L164.6,448.2L164.8,447.7L165.1,447.5L165.3,447.5L165.6,447.9L168.3,454.7L169.1,456.1L170.6,457.7L171.3,458.2L172.3,458.3L173.6,458.3L174.3,458.5L176.8,460.2L180.1,461.9L181.1,462.3L181.6,462.3L181.8,462.2L182.1,462.0L182.3,461.7L182.6,461.1L182.8,460.4L183.3,457.8L183.8,453.2L184.3,445.6L184.8,434.3L186.3,381.3L189.6,381.3L189.8,381.3L190.1,386.2L191.1,423.9L191.8,443.3L192.3,451.5L192.8,456.7L193.3,459.8L193.6,460.6L193.8,461.2L194.1,461.4L194.3,461.5L194.6,461.5L197.8,458.5L199.6,456.3L200.1,455.9L200.6,455.9L201.3,456.2L204.6,458.9L207.3,461.2L210.6,463.0L211.6,463.2L213.1,463.2L214.8,463.9L215.1,463.9L215.3,463.8L215.8,463.4L218.1,459.3L218.6,458.7L218.8,458.6L219.1,458.5L219.6,458.7L221.3,460.5L221.8,460.8L223.8,461.0L227.1,459.7L228.8,459.3L231.3,457.5L232.1,457.4L232.6,457.5L233.8,458.4L237.1,462.2L238.8,463.9L240.8,465.0L241.8,465.3L242.6,465.1L245.8,462.9L248.8,460.5L250.6,459.9L251.3,459.9L252.1,460.2L253.1,461.2L254.3,462.7L254.8,463.1L255.1,463.2L255.3,463.2L255.8,462.8L256.6,461.8L258.8,457.6L259.6,456.6L260.1,456.2L260.6,456.1L260.8,456.2L261.1,456.5L261.6,457.5L263.6,463.6L264.1,464.7L264.3,465.0L264.6,465.1L264.8,465.1L268.1,463.9L269.3,462.9L271.1,461.2L272.3,460.6L273.3,460.4L273.8,460.6L274.3,460.9L277.1,465.2L277.6,465.6L278.1,465.9L278.6,465.9L281.6,465.4L284.1,463.8L285.1,463.6L286.8,464.1L290.1,466.2L291.1,466.5L292.6,466.5L294.8,467.2L297.8,466.9L301.1,467.2L302.8,467.6L303.6,467.4L303.8,467.2L304.3,465.9L305.8,460.4L307.6,452.1L308.1,450.5L308.3,450.1L308.6,450.0L308.8,450.3L309.1,450.9L309.6,452.9L311.3,462.7L311.8,464.5L312.1,465.0L312.3,465.0L312.6,464.5L312.8,463.6L314.6,451.8L314.8,450.5L315.1,449.6L315.3,449.1L315.6,449.2L315.8,449.9L316.3,452.3L317.8,462.6L318.3,464.8L318.6,465.4L318.8,465.4L319.1,465.3L319.6,464.6L320.8,462.0L321.3,460.5L322.1,456.8L322.3,455.2L322.6,452.8L323.3,442.9L323.6,441.4L323.8,441.9L324.1,443.9L324.8,452.6L325.1,454.3L326.1,458.7L326.8,460.9L327.3,461.7L329.1,463.6L329.8,464.1L332.6,464.5L333.8,464.8L334.6,464.6L337.8,462.0L339.1,460.9L339.6,460.7L339.8,460.7L340.1,460.8L340.6,461.3L342.1,464.2L342.6,464.9L342.8,465.1L343.1,465.1L343.3,464.9L343.8,464.0L345.3,460.2L345.6,459.7L345.8,459.5L346.1,459.4L346.3,459.4L347.1,460.2L350.1,464.0L350.8,464.7L351.3,464.9L351.8,464.9L352.3,464.6L355.6,459.8L356.6,458.7L357.1,458.4L357.3,458.4L357.6,458.5L358.1,458.9L359.1,460.8L360.3,463.5L360.8,464.2L361.1,464.4L361.3,464.4L361.6,464.3L362.1,463.8L364.6,458.2L365.1,457.5L365.3,457.3L365.6,457.2L367.3,457.2L369.1,457.6L371.6,457.2L373.6,457.7L374.1,457.7L374.8,457.5L378.1,454.9L380.1,453.7L382.1,452.9L383.1,452.1L386.3,448.5L387.1,447.2L388.6,443.0L389.8,436.7L390.1,435.9L390.3,435.6L390.6,435.9L390.8,436.9L392.3,446.8L393.1,452.9L393.3,454.4L393.6,455.2L395.1,456.1L395.8,456.3L397.3,456.0L397.6,455.8L398.1,455.2L401.3,447.7L401.8,446.9L402.1,446.6L402.3,446.5L402.6,446.6L402.8,446.8L403.3,447.4L406.6,453.8L407.8,456.2L408.3,456.8L408.6,456.9L409.1,456.8L409.8,456.3L411.8,454.4L415.1,452.5L416.6,451.7L419.8,450.8L421.6,450.4L422.6,449.7L424.3,447.9L425.3,447.4L427.1,446.8L430.3,445.0L431.6,444.2L432.3,443.5L432.8,442.6L435.1,435.6L436.3,430.5L436.6,429.7L436.8,429.2L437.1,429.0L437.3,429.0L437.6,429.2L438.1,430.1L441.3,438.7L444.6,445.0L445.6,446.3L447.6,447.4L448.3,447.5L450.3,447.0L450.6,446.7L451.1,445.3L452.1,441.5L452.3,440.8L452.6,440.4L452.8,440.3L453.1,440.5L453.6,441.6L456.3,449.8L456.8,450.9L460.1,452.7L461.1,453.1L461.8,453.2L465.1,451.8L466.1,451.5L466.8,450.8L469.1,447.7L469.8,446.2L473.1,436.5L473.8,434.4L474.1,434.0L474.3,433.8L474.6,433.8L475.1,434.1L475.6,434.8L475.8,435.3"/>
<path clip-path="url(#cp3)" stroke-width="1.18" stroke-dasharray="1.6 2.4" d="M62.8,465.9L66.0,448.7L68.8,432.8L69.5,429.8L70.5,427.6L73.8,422.7L76.0,418.9L77.0,416.4L80.0,406.5L80.8,404.7L81.3,403.9L83.0,402.8L86.3,401.8L87.0,401.5L87.3,401.0L87.8,398.7L89.3,388.2L89.8,385.9L90.0,385.3L90.3,385.2L90.5,385.8L91.0,388.0L92.0,394.0L93.0,397.3L95.5,403.5L96.5,407.2L96.8,407.8L97.0,408.0L97.3,407.5L97.5,406.4L99.3,392.5L99.5,391.3L99.8,390.7L100.0,390.7L100.3,391.0L100.8,392.4L103.0,403.8L103.8,408.7L104.0,409.7L104.3,409.8L104.5,409.5L105.5,407.1L105.8,406.7L106.0,406.7L106.3,407.0L107.0,408.5L107.3,408.7L107.5,408.4L107.8,407.5L108.0,405.9L108.3,403.3L109.0,390.4L109.3,384.9L109.5,381.3L112.8,381.3L116.0,381.3L119.3,381.3L121.3,381.3L122.3,402.5L123.5,420.5L124.0,425.6L124.5,429.0L125.0,430.6L125.5,431.6L126.0,432.2L129.1,433.7L132.3,435.8L135.6,438.1L138.8,441.5L141.1,443.7L142.3,444.4L142.8,444.5L143.1,444.4L143.3,442.4L144.1,429.1L144.8,410.0L145.1,406.9L145.3,407.5L145.6,410.1L147.1,432.1L147.3,435.0L147.6,437.2L147.8,438.0L148.1,436.7L148.3,433.2L150.1,398.1L150.3,394.8L150.6,394.0L150.8,396.2L151.8,417.4L152.1,420.4L152.8,426.0L153.3,428.6L153.6,429.5L153.8,430.0L154.3,430.5L155.6,431.3L156.1,431.8L156.6,433.2L157.3,435.8L157.6,436.5L157.8,436.9L158.1,437.0L159.3,436.7L160.8,435.9L161.1,435.6L161.6,434.1L162.8,429.3L163.1,428.6L163.3,428.3L163.6,428.4L163.8,428.7L164.3,430.0L166.3,438.5L166.8,439.8L167.1,440.1L170.3,440.0L170.8,440.1L171.3,440.4L172.1,441.4L175.3,448.0L177.1,449.8L177.8,450.3L178.3,450.4L178.6,450.3L178.8,450.1L179.3,449.4L179.8,448.0L180.3,445.8L180.8,442.5L181.6,434.9L182.3,423.7L183.8,390.2L184.1,383.6L184.3,381.3L187.6,381.3L190.3,381.3L190.6,382.1L192.1,417.0L192.8,428.8L193.3,434.4L193.8,438.4L194.3,440.9L194.8,442.5L195.1,442.9L195.3,443.2L195.6,443.4L196.1,443.5L196.6,443.3L197.3,442.6L199.3,439.9L200.1,439.3L200.6,439.1L201.1,439.2L201.6,439.6L202.6,440.8L205.6,446.1L208.8,450.3L210.6,452.2L211.6,452.9L212.3,453.1L215.6,452.9L218.8,452.1L219.3,451.8L222.6,448.1L224.1,446.3L224.8,445.8L225.3,445.6L225.6,445.6L225.8,445.9L226.3,446.8L227.8,450.8L228.3,451.7L228.6,452.0L228.8,452.0L229.3,451.8L232.1,449.2L232.6,448.9L233.1,448.8L233.3,448.9L233.8,449.3L234.6,450.4L237.3,456.3L237.8,457.0L238.3,457.4L241.6,458.2L244.8,458.5L245.3,458.4L246.1,457.9L249.3,453.1L250.8,450.6L252.8,446.6L253.3,446.0L253.8,445.6L254.3,445.6L255.1,446.1L257.3,448.4L257.8,448.7L258.3,448.8L258.8,448.7L261.1,446.9L261.6,446.7L261.8,446.7L262.1,446.9L262.8,448.1L264.1,450.4L264.6,450.9L264.8,451.0L265.6,450.8L268.1,448.8L268.8,447.8L271.6,442.6L272.3,441.6L272.8,441.3L273.1,441.3L273.3,441.5L273.6,441.8L274.1,443.0L275.8,449.2L276.3,450.5L279.3,453.7L281.3,454.9L282.8,455.3L283.8,455.2L286.1,454.2L286.8,454.2L287.8,454.7L290.6,457.0L291.3,457.3L292.1,457.4L295.3,455.8L296.6,455.3L297.6,455.4L300.8,456.9L302.1,457.4L302.6,457.4L302.8,457.2L303.1,456.7L303.6,455.2L305.1,448.8L306.6,438.8L306.8,437.7L307.1,437.1L307.3,437.1L307.6,437.7L308.8,445.2L310.1,449.5L310.6,450.6L310.8,450.9L311.1,451.0L311.3,450.7L311.6,450.1L313.3,442.6L314.6,435.1L315.1,433.1L315.3,432.6L315.6,432.7L315.8,433.3L317.1,439.9L318.6,445.5L318.8,446.1L319.1,446.6L319.3,446.7L319.6,446.5L319.8,446.0L321.6,439.7L322.3,436.3L322.6,435.5L322.8,434.9L323.1,434.8L323.3,435.3L323.8,438.0L324.8,445.0L326.3,450.6L327.1,452.6L329.6,456.9L330.6,458.1L331.1,458.4L331.6,458.5L332.3,458.4L333.6,457.6L336.1,455.1L338.6,450.8L339.1,450.2L339.6,449.9L340.3,450.0L342.6,450.9L343.1,451.0L343.3,450.9L343.8,450.4L345.8,446.5L346.3,445.9L346.6,445.7L346.8,445.6L347.1,445.7L347.6,446.0L348.6,447.5L350.3,450.8L350.8,451.5L351.3,451.9L351.6,452.0L351.8,452.0L352.3,451.7L353.1,450.7L355.6,445.8L356.3,444.8L356.8,444.5L357.1,444.5L357.3,444.7L357.8,445.5L359.3,449.7L359.8,450.7L360.1,451.0L360.3,451.0L360.8,450.7L361.6,449.8L364.3,444.5L364.8,443.9L365.3,443.5L367.1,443.6L370.3,444.6L372.6,445.6L373.3,445.6L374.3,445.2L377.6,442.2L380.1,439.9L383.3,437.7L384.8,436.2L385.3,435.4L386.6,431.5L387.1,429.3L387.8,424.9L388.1,424.1L388.3,424.1L388.6,424.6L391.1,436.7L393.3,444.5L393.8,445.7L394.3,446.5L394.6,446.7L394.8,446.7L395.1,446.5L395.6,445.8L398.8,437.7L399.3,436.6L399.6,436.2L399.8,436.0L402.3,436.2L404.3,437.0L404.6,437.1L404.8,437.4L405.3,438.6L407.6,446.8L408.1,448.1L408.3,448.5L408.6,448.8L408.8,448.8L409.1,448.6L409.6,447.8L411.3,443.2L411.8,442.4L415.1,440.8L418.3,439.9L421.6,439.4L424.6,438.2L427.8,436.1L431.1,433.1L432.6,431.2L434.6,427.2L435.1,426.5L435.3,426.3L435.6,426.2L436.1,426.3L436.8,426.7L440.1,430.7L442.3,435.1L442.8,435.8L445.1,436.8L446.3,437.0L446.6,436.9L447.1,436.4L448.8,433.3L449.3,432.7L449.6,432.6L449.8,432.6L450.3,433.0L452.8,437.0L455.6,440.5L456.3,441.1L456.8,441.3L459.8,440.8L461.6,440.1L462.1,439.6L463.1,437.9L466.3,430.1L468.6,423.8L469.1,422.8L469.6,422.1L469.8,421.9L470.3,421.9L471.1,422.3L472.3,423.6L473.3,425.0L473.8,426.0L475.3,431.2L475.6,431.6L475.8,431.6"/>
</g>
<g fill="none" stroke="#111" stroke-width="1.45">
<rect x="202.5" y="164.3" width="13.6" height="84.3"/>
<rect x="439.6" y="171.1" width="14.5" height="77.5"/>
<rect x="167.7" y="284.7" width="14.6" height="84.1"/>
<rect x="331.5" y="307.3" width="13.1" height="61.2"/>
<rect x="309.5" y="411.6" width="12.3" height="80.3"/>
<rect x="427.6" y="409" width="17.6" height="76.8"/>
</g>
<g font-family="Liberation Serif, serif" fill="#111">
<g font-weight="bold" font-size="14.2" text-anchor="middle">
<text x="209.3" y="157.3">a</text>
<text x="446.1" y="165">e</text>
<text x="175.3" y="278.5">b</text>
<text x="337.7" y="300">c</text>
<text x="315.6" y="403.9">d</text>
<text x="437.3" y="402.7">f</text>
</g>
<g font-size="11.5" text-anchor="end">
<text x="56" y="25.2">4x10<tspan font-size="7.8" dy="-4.6" dx="0.3">6</tspan></text>
<text x="56" y="78.1">2x10<tspan font-size="7.8" dy="-4.6" dx="0.3">6</tspan></text>
<text x="56" y="130.1">0</text>
<text x="56" y="147.5">2x10<tspan font-size="7.8" dy="-4.6" dx="0.3">6</tspan></text>
<text x="56" y="200.3">1x10<tspan font-size="7.8" dy="-4.6" dx="0.3">6</tspan></text>
<text x="56" y="252.2">0</text>
<text x="56" y="276.2">7x10<tspan font-size="7.8" dy="-4.6" dx="0.3">5</tspan></text>
<text x="56" y="326.0">4x10<tspan font-size="7.8" dy="-4.6" dx="0.3">5</tspan></text>
<text x="56" y="374.2">0</text>
<text x="56" y="404.2">7x10<tspan font-size="7.8" dy="-4.6" dx="0.3">5</tspan></text>
<text x="56" y="450.4">4x10<tspan font-size="7.8" dy="-4.6" dx="0.3">5</tspan></text>
<text x="56" y="496.1">0</text>
</g>
<g font-size="12" text-anchor="middle">
<text x="80.6" y="506.9">12</text>
<text x="152.5" y="506.9">16</text>
<text x="224.4" y="506.9">20</text>
<text x="296.2" y="506.9">24</text>
<text x="368.1" y="506.9">28</text>
<text x="440.0" y="506.9">32</text>
</g>
<text x="191.6" y="529" font-size="17.9">Retention time [min]</text>
<text transform="translate(13.9,306.6) rotate(-90)" font-size="17.9">Signal [mAU]</text>
<g font-size="14" text-anchor="middle">
<text transform="translate(496.4,73.4) rotate(-90)">Standard</text>
<text transform="translate(496.4,197) rotate(-90)">Casein</text>
<text transform="translate(496.4,318) rotate(-90)">Lupin</text>
<text transform="translate(496.4,435.1) rotate(-90)">Sunflower</text>
</g>
<g font-size="12" lengthAdjust="spacingAndGlyphs">
<text x="97" y="38.3" textLength="14.6" lengthAdjust="spacingAndGlyphs">Di-</text><text x="215.8" y="23" textLength="17.3" lengthAdjust="spacingAndGlyphs">Tri-</text><text x="336.3" y="16" textLength="29.2" lengthAdjust="spacingAndGlyphs">Penta-</text><text x="390.6" y="16" textLength="25.4" lengthAdjust="spacingAndGlyphs">Octa-</text>
</g>
<g font-size="7.7"><text x="273" y="61.6" textLength="23.2" lengthAdjust="spacingAndGlyphs">Protease</text><text x="273" y="70.3" textLength="24" lengthAdjust="spacingAndGlyphs">Inhibitor</text></g>
<rect x="515.8" y="1.6" width="119.8" height="96.9" fill="#fff" stroke="#444" stroke-width="1.2"/>
<g stroke="#111" stroke-width="1.1" fill="none">
<path d="M526.4,14.9H558.4" stroke-dasharray="1.9 2.0"/>
<path d="M526.4,32.1H558.4" stroke-dasharray="1.4 0.9"/>
<path d="M526.4,50.1H558.4" stroke-dasharray="2.6 1 0.8 1 0.8 1"/>
<path d="M526.4,67.7H558.4" stroke-dasharray="4.2 1 1 1"/>
<path d="M526.4,85.3H558.4"/>
</g>
<g font-size="14.2">
<text x="562.4" y="19.6">11 μL/min</text>
<text x="562.4" y="37.0">33 μL/min</text>
<text x="562.4" y="54.9">100 μL/min</text>
<text x="562.4" y="72.5">200 μL/min</text>
<text x="562.4" y="90.0">Nativ</text>
</g>
</g>
</svg>
</body></html>
